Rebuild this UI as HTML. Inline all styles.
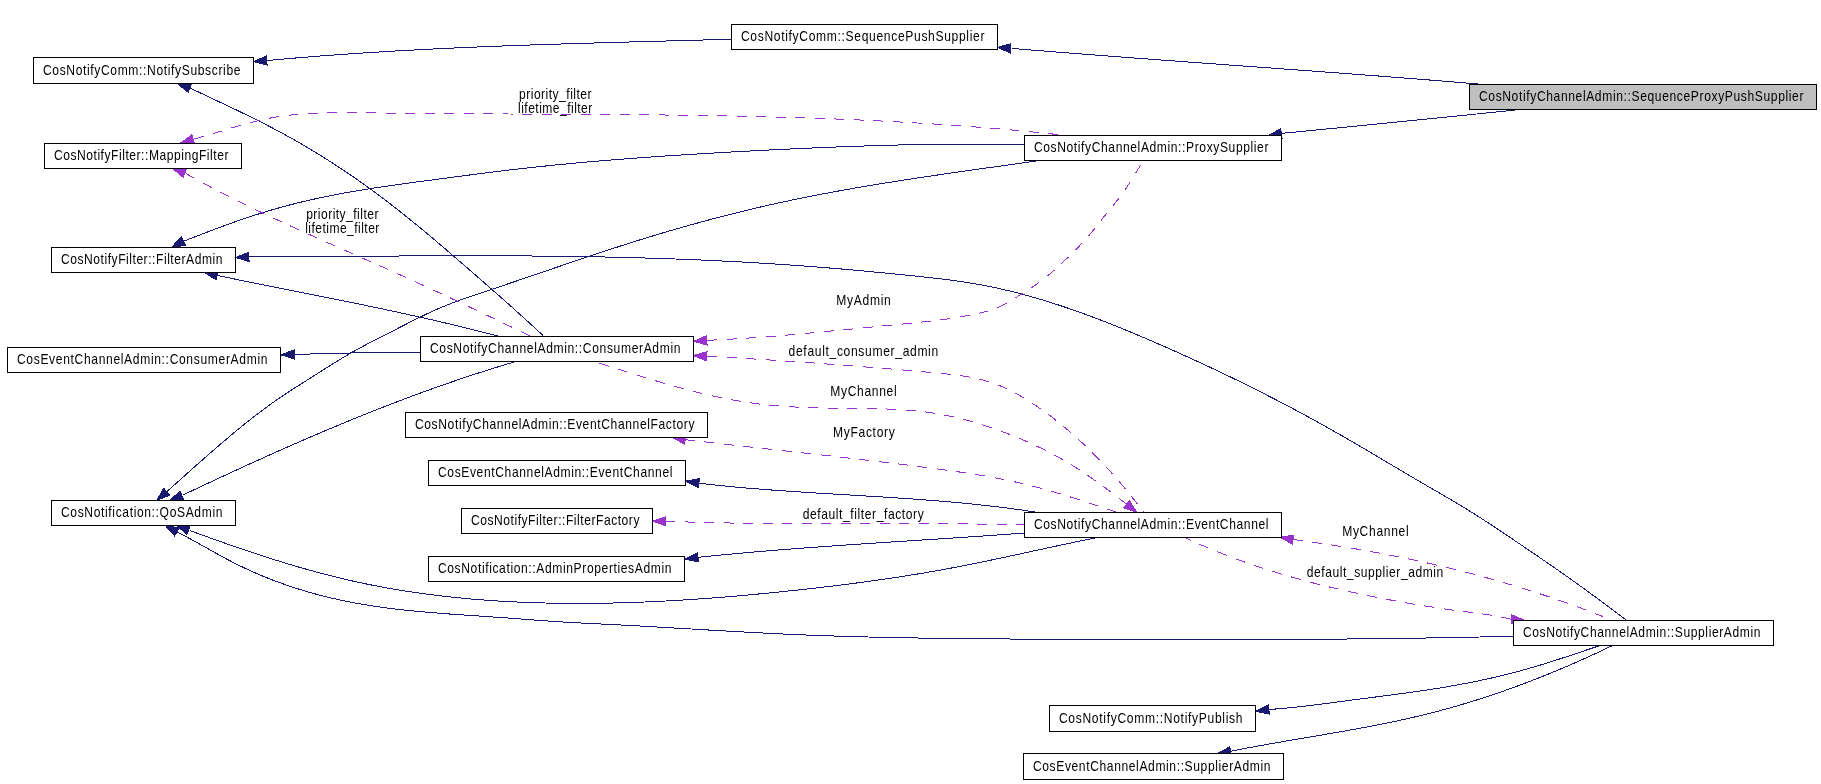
<!DOCTYPE html><html><head><meta charset="utf-8"><style>html,body{margin:0;padding:0;background:#fff;width:1821px;height:784px;overflow:hidden}svg{display:block;will-change:transform}text{font-family:'Liberation Sans', sans-serif;font-size:14.4px;fill:#000}.e{fill:none;stroke-width:1;shape-rendering:crispEdges}polygon{shape-rendering:crispEdges}.d{stroke-dasharray:10,9.5}</style></head><body>
<svg width="1821" height="784" viewBox="0 0 1821 784">
<rect width="1821" height="784" fill="#fff"/>
<path class="e" stroke="#191970" d="M1011.8,48.4 L1014.83,48.65 L1017.85,48.9 L1020.88,49.15 L1023.9,49.4 L1026.93,49.65 L1029.95,49.9 L1032.98,50.14 L1036,50.39 L1039.03,50.63 L1042.05,50.88 L1045.08,51.12 L1048.11,51.36 L1051.13,51.61 L1054.16,51.85 L1057.18,52.09 L1060.21,52.33 L1063.24,52.57 L1066.26,52.8 L1069.29,53.04 L1072.31,53.28 L1075.34,53.52 L1078.37,53.75 L1081.39,53.99 L1084.42,54.22 L1087.45,54.46 L1090.47,54.69 L1093.5,54.92 L1096.53,55.16 L1099.55,55.39 L1102.58,55.62 L1105.61,55.85 L1108.63,56.08 L1111.66,56.31 L1114.69,56.54 L1117.72,56.77 L1120.74,57 L1123.77,57.23 L1126.8,57.46 L1129.82,57.68 L1132.85,57.91 L1135.88,58.14 L1138.91,58.36 L1141.93,58.59 L1144.96,58.81 L1147.99,59.04 L1151.02,59.26 L1154.04,59.49 L1157.07,59.71 L1160.1,59.94 L1163.13,60.16 L1166.15,60.38 L1169.18,60.61 L1172.21,60.83 L1175.24,61.05 L1178.26,61.27 L1181.29,61.5 L1184.32,61.72 L1187.35,61.94 L1190.37,62.16 L1193.4,62.38 L1196.43,62.6 L1199.46,62.82 L1202.49,63.04 L1205.51,63.27 L1208.54,63.49 L1211.57,63.71 L1214.6,63.93 L1217.62,64.15 L1220.65,64.37 L1223.68,64.59 L1226.71,64.81 L1229.74,65.03 L1232.76,65.25 L1235.79,65.47 L1238.82,65.69 L1241.85,65.91 L1244.88,66.13 L1247.9,66.35 L1250.93,66.57 L1253.96,66.79 L1256.99,67.01 L1260.01,67.23 L1263.04,67.45 L1266.07,67.67 L1269.1,67.89 L1272.13,68.11 L1275.15,68.33 L1278.18,68.55 L1281.21,68.77 L1284.24,68.99 L1287.27,69.21 L1290.29,69.43 L1293.32,69.65 L1296.35,69.88 L1299.38,70.1 L1302.4,70.32 L1305.43,70.54 L1308.46,70.77 L1311.49,70.99 L1314.51,71.21 L1317.54,71.44 L1320.57,71.66 L1323.6,71.88 L1326.62,72.11 L1329.65,72.33 L1332.68,72.56 L1335.71,72.78 L1338.73,73.01 L1341.76,73.24 L1344.79,73.46 L1347.82,73.69 L1350.84,73.92 L1353.87,74.14 L1356.9,74.37 L1359.93,74.6 L1362.95,74.83 L1365.98,75.06 L1369.01,75.29 L1372.03,75.52 L1375.06,75.75 L1378.09,75.98 L1381.12,76.22 L1384.14,76.45 L1387.17,76.68 L1390.2,76.92 L1393.22,77.15 L1396.25,77.39 L1399.28,77.62 L1402.3,77.86 L1405.33,78.09 L1408.36,78.33 L1411.38,78.57 L1414.41,78.81 L1417.44,79.05 L1420.46,79.29 L1423.49,79.53 L1426.51,79.77 L1429.54,80.01 L1432.57,80.25 L1435.59,80.5 L1438.62,80.74 L1441.64,80.99 L1444.67,81.23 L1447.7,81.48 L1450.72,81.73 L1453.75,81.97 L1456.77,82.22 L1459.8,82.47 L1462.82,82.72 L1465.85,82.97 L1468.87,83.23 L1471.9,83.48 L1474.92,83.73 L1477.95,83.99 L1480.98,84.24 L1484,84.5"/>
<polygon points="997.2,47.4 1010.78,43.72 1010.15,52.9" fill="#191970" stroke="#191970" stroke-width="1"/>
<path class="e" stroke="#191970" d="M1281.4,133.4 L1284.46,133.1 L1287.52,132.8 L1290.58,132.51 L1293.64,132.21 L1296.7,131.91 L1299.76,131.61 L1302.82,131.31 L1305.88,131.01 L1308.94,130.72 L1312,130.42 L1315.06,130.12 L1318.12,129.82 L1321.18,129.52 L1324.24,129.22 L1327.3,128.92 L1330.36,128.62 L1333.42,128.32 L1336.48,128.02 L1339.53,127.72 L1342.59,127.42 L1345.65,127.12 L1348.71,126.82 L1351.77,126.52 L1354.83,126.22 L1357.89,125.91 L1360.95,125.61 L1364.01,125.31 L1367.07,125.01 L1370.13,124.71 L1373.19,124.4 L1376.25,124.1 L1379.31,123.8 L1382.37,123.49 L1385.43,123.19 L1388.49,122.89 L1391.54,122.58 L1394.6,122.28 L1397.66,121.97 L1400.72,121.67 L1403.78,121.36 L1406.84,121.06 L1409.9,120.75 L1412.96,120.45 L1416.02,120.14 L1419.08,119.83 L1422.14,119.53 L1425.19,119.22 L1428.25,118.91 L1431.31,118.6 L1434.37,118.3 L1437.43,117.99 L1440.49,117.68 L1443.55,117.37 L1446.61,117.06 L1449.66,116.75 L1452.72,116.44 L1455.78,116.13 L1458.84,115.82 L1461.9,115.5 L1464.96,115.19 L1468.01,114.88 L1471.07,114.57 L1474.13,114.25 L1477.19,113.94 L1480.25,113.62 L1483.31,113.31 L1486.36,113 L1489.42,112.68 L1492.48,112.36 L1495.54,112.05 L1498.6,111.73 L1501.65,111.41 L1504.71,111.1 L1507.77,110.78 L1510.83,110.46 L1513.88,110.14 L1516.94,109.82 L1520,109.5"/>
<polygon points="1268.2,135.5 1280.61,128.87 1282.06,137.95" fill="#191970" stroke="#191970" stroke-width="1"/>
<path class="e" stroke="#191970" d="M267.3,60.5 L270.32,60.22 L273.35,59.94 L276.37,59.67 L279.4,59.39 L282.43,59.13 L285.45,58.86 L288.48,58.6 L291.5,58.34 L294.53,58.08 L297.56,57.83 L300.58,57.58 L303.61,57.33 L306.64,57.08 L309.67,56.84 L312.69,56.6 L315.72,56.36 L318.75,56.13 L321.78,55.89 L324.81,55.66 L327.83,55.44 L330.86,55.21 L333.89,54.99 L336.92,54.77 L339.95,54.56 L342.98,54.34 L346.01,54.13 L349.04,53.92 L352.07,53.71 L355.1,53.51 L358.13,53.31 L361.16,53.11 L364.19,52.91 L367.22,52.72 L370.25,52.52 L373.29,52.33 L376.32,52.15 L379.35,51.96 L382.38,51.78 L385.41,51.59 L388.44,51.41 L391.48,51.24 L394.51,51.06 L397.54,50.89 L400.57,50.72 L403.61,50.55 L406.64,50.38 L409.67,50.22 L412.7,50.05 L415.74,49.89 L418.77,49.73 L421.81,49.58 L424.84,49.42 L427.87,49.27 L430.91,49.12 L433.94,48.97 L436.97,48.82 L440.01,48.67 L443.04,48.53 L446.08,48.38 L449.11,48.24 L452.15,48.1 L455.18,47.96 L458.22,47.83 L461.25,47.69 L464.29,47.56 L467.32,47.43 L470.36,47.3 L473.39,47.17 L476.43,47.04 L479.46,46.92 L482.5,46.79 L485.53,46.67 L488.57,46.55 L491.61,46.43 L494.64,46.31 L497.68,46.19 L500.71,46.07 L503.75,45.96 L506.79,45.85 L509.82,45.73 L512.86,45.62 L515.89,45.51 L518.93,45.4 L521.97,45.29 L525,45.19 L528.04,45.08 L531.08,44.98 L534.11,44.87 L537.15,44.77 L540.19,44.67 L543.22,44.57 L546.26,44.47 L549.3,44.37 L552.34,44.27 L555.37,44.17 L558.41,44.08 L561.45,43.98 L564.48,43.89 L567.52,43.79 L570.56,43.7 L573.59,43.61 L576.63,43.51 L579.67,43.42 L582.71,43.33 L585.74,43.24 L588.78,43.15 L591.82,43.06 L594.85,42.98 L597.89,42.89 L600.93,42.8 L603.97,42.72 L607,42.63 L610.04,42.54 L613.08,42.46 L616.11,42.37 L619.15,42.29 L622.19,42.2 L625.23,42.12 L628.26,42.04 L631.3,41.95 L634.34,41.87 L637.37,41.79 L640.41,41.7 L643.45,41.62 L646.49,41.54 L649.52,41.46 L652.56,41.37 L655.6,41.29 L658.63,41.21 L661.67,41.13 L664.71,41.05 L667.74,40.96 L670.78,40.88 L673.82,40.8 L676.85,40.72 L679.89,40.64 L682.93,40.55 L685.96,40.47 L689,40.39 L692.04,40.31 L695.07,40.22 L698.11,40.14 L701.14,40.06 L704.18,39.97 L707.22,39.89 L710.25,39.8 L713.29,39.72 L716.32,39.63 L719.36,39.55 L722.39,39.46 L725.43,39.37 L728.46,39.29 L731.5,39.2"/>
<polygon points="253.5,61.5 266.43,55.95 267.1,65.13" fill="#191970" stroke="#191970" stroke-width="1"/>
<path class="e" stroke="#191970" d="M183.6,241.2 L186.41,240.12 L189.23,239.04 L192.04,237.95 L194.86,236.86 L197.67,235.78 L200.49,234.69 L203.31,233.6 L206.13,232.52 L208.95,231.44 L211.77,230.37 L214.6,229.3 L217.42,228.23 L220.25,227.18 L223.09,226.13 L225.92,225.09 L228.76,224.06 L231.6,223.04 L234.45,222.03 L237.3,221.03 L240.15,220.05 L243,219.07 L245.86,218.11 L248.72,217.15 L251.59,216.21 L254.46,215.28 L257.33,214.36 L260.21,213.46 L263.09,212.57 L265.97,211.69 L268.86,210.82 L271.75,209.96 L274.64,209.12 L277.54,208.29 L280.44,207.48 L283.34,206.67 L286.25,205.89 L289.16,205.11 L292.08,204.35 L294.99,203.61 L297.92,202.87 L300.84,202.16 L303.77,201.45 L306.7,200.76 L309.64,200.09 L312.58,199.42 L315.52,198.77 L318.46,198.13 L321.41,197.51 L324.36,196.89 L327.31,196.29 L330.27,195.69 L333.23,195.11 L336.19,194.54 L339.15,193.98 L342.12,193.43 L345.09,192.89 L348.06,192.35 L351.03,191.83 L354,191.32 L356.98,190.81 L359.96,190.31 L362.94,189.82 L365.92,189.34 L368.9,188.86 L371.88,188.39 L374.87,187.93 L377.86,187.48 L380.84,187.03 L383.83,186.58 L386.82,186.14 L389.81,185.71 L392.81,185.28 L395.8,184.85 L398.79,184.43 L401.79,184.01 L404.78,183.6 L407.78,183.19 L410.77,182.78 L413.77,182.38 L416.76,181.97 L419.76,181.57 L422.75,181.17 L425.75,180.78 L428.75,180.38 L431.74,179.98 L434.74,179.59 L437.73,179.19 L440.72,178.8 L443.72,178.4 L446.71,178.01 L449.7,177.61 L452.7,177.21 L455.69,176.82 L458.68,176.42 L461.67,176.03 L464.66,175.64 L467.65,175.24 L470.64,174.85 L473.63,174.47 L476.62,174.08 L479.61,173.69 L482.61,173.31 L485.6,172.93 L488.59,172.55 L491.58,172.18 L494.57,171.8 L497.56,171.43 L500.55,171.07 L503.55,170.7 L506.54,170.34 L509.53,169.99 L512.53,169.64 L515.52,169.29 L518.51,168.95 L521.51,168.61 L524.51,168.27 L527.5,167.94 L530.5,167.61 L533.5,167.28 L536.49,166.96 L539.49,166.64 L542.49,166.32 L545.49,166.01 L548.49,165.7 L551.49,165.4 L554.49,165.1 L557.49,164.8 L560.49,164.51 L563.49,164.21 L566.49,163.92 L569.5,163.64 L572.5,163.36 L575.5,163.08 L578.5,162.8 L581.51,162.53 L584.51,162.26 L587.52,161.99 L590.52,161.73 L593.53,161.47 L596.53,161.21 L599.54,160.95 L602.54,160.7 L605.55,160.45 L608.56,160.2 L611.56,159.96 L614.57,159.72 L617.58,159.48 L620.59,159.24 L623.59,159.01 L626.6,158.78 L629.61,158.55 L632.62,158.32 L635.63,158.09 L638.64,157.87 L641.65,157.65 L644.66,157.44 L647.67,157.22 L650.68,157.01 L653.69,156.8 L656.7,156.59 L659.71,156.38 L662.72,156.18 L665.73,155.98 L668.74,155.78 L671.75,155.58 L674.76,155.38 L677.78,155.19 L680.79,154.99 L683.8,154.8 L686.81,154.61 L689.82,154.43 L692.84,154.24 L695.85,154.06 L698.86,153.88 L701.88,153.7 L704.89,153.52 L707.9,153.34 L710.91,153.16 L713.93,152.99 L716.94,152.82 L719.95,152.65 L722.97,152.48 L725.98,152.31 L728.99,152.14 L732.01,151.97 L735.02,151.81 L738.03,151.65 L741.05,151.48 L744.06,151.32 L747.08,151.16 L750.09,151 L753.1,150.85 L756.12,150.69 L759.13,150.53 L762.14,150.38 L765.16,150.22 L768.17,150.07 L771.18,149.92 L774.2,149.77 L777.21,149.62 L780.23,149.47 L783.24,149.33 L786.25,149.18 L789.27,149.04 L792.28,148.89 L795.29,148.75 L798.31,148.61 L801.32,148.48 L804.33,148.34 L807.35,148.2 L810.36,148.07 L813.38,147.94 L816.39,147.81 L819.4,147.68 L822.42,147.55 L825.43,147.43 L828.45,147.3 L831.46,147.18 L834.47,147.06 L837.49,146.94 L840.5,146.83 L843.52,146.71 L846.53,146.6 L849.54,146.49 L852.56,146.38 L855.57,146.28 L858.59,146.17 L861.6,146.07 L864.62,145.97 L867.63,145.87 L870.65,145.78 L873.66,145.68 L876.67,145.59 L879.69,145.5 L882.7,145.42 L885.72,145.33 L888.73,145.25 L891.75,145.17 L894.76,145.09 L897.78,145.02 L900.79,144.95 L903.81,144.88 L906.83,144.81 L909.84,144.74 L912.86,144.68 L915.87,144.62 L918.89,144.57 L921.9,144.51 L924.92,144.46 L927.94,144.41 L930.95,144.37 L933.97,144.32 L936.98,144.28 L940,144.25 L943.02,144.21 L946.03,144.18 L949.05,144.15 L952.07,144.13 L955.08,144.1 L958.1,144.09 L961.12,144.07 L964.13,144.06 L967.15,144.05 L970.17,144.04 L973.19,144.04 L976.2,144.04 L979.22,144.04 L982.24,144.05 L985.26,144.06 L988.27,144.07 L991.29,144.09 L994.31,144.11 L997.33,144.13 L1000.35,144.16 L1003.37,144.19 L1006.38,144.22 L1009.4,144.26 L1012.42,144.3 L1015.44,144.34 L1018.46,144.39 L1021.48,144.45 L1024.5,144.5"/>
<polygon points="171.5,247.3 181.31,237.21 185.45,245.42" fill="#191970" stroke="#191970" stroke-width="1"/>
<path class="e" stroke="#191970" d="M166.6,491.8 L168.86,489.8 L171.12,487.8 L173.37,485.79 L175.63,483.79 L177.88,481.78 L180.13,479.77 L182.38,477.76 L184.64,475.75 L186.89,473.73 L189.14,471.72 L191.4,469.71 L193.65,467.7 L195.91,465.69 L198.17,463.69 L200.43,461.68 L202.69,459.68 L204.95,457.68 L207.22,455.69 L209.49,453.69 L211.76,451.71 L214.04,449.72 L216.32,447.74 L218.61,445.77 L220.9,443.8 L223.19,441.84 L225.49,439.88 L227.79,437.93 L230.1,435.99 L232.41,434.05 L234.74,432.12 L237.06,430.2 L239.4,428.29 L241.74,426.39 L244.08,424.49 L246.44,422.61 L248.8,420.74 L251.17,418.87 L253.55,417.02 L255.93,415.18 L258.33,413.35 L260.73,411.53 L263.14,409.72 L265.57,407.93 L268,406.15 L270.44,404.38 L272.89,402.62 L275.35,400.88 L277.83,399.16 L280.31,397.45 L282.81,395.75 L285.32,394.07 L287.84,392.41 L290.37,390.76 L292.91,389.12 L295.46,387.5 L298.01,385.88 L300.57,384.27 L303.13,382.66 L305.69,381.05 L308.25,379.43 L310.8,377.81 L313.35,376.19 L315.9,374.57 L318.45,372.94 L320.99,371.32 L323.54,369.7 L326.09,368.08 L328.64,366.47 L331.2,364.86 L333.76,363.27 L336.32,361.68 L338.89,360.1 L341.47,358.54 L344.05,356.99 L346.65,355.46 L349.25,353.94 L351.87,352.44 L354.49,350.96 L357.13,349.5 L359.77,348.05 L362.42,346.62 L365.08,345.2 L367.75,343.79 L370.42,342.4 L373.1,341.01 L375.78,339.63 L378.47,338.25 L381.16,336.88 L383.85,335.51 L386.54,334.14 L389.24,332.78 L391.93,331.41 L394.62,330.04 L397.32,328.67 L400.01,327.29 L402.7,325.91 L405.39,324.54 L408.08,323.16 L410.77,321.79 L413.47,320.43 L416.17,319.08 L418.87,317.74 L421.58,316.41 L424.3,315.09 L427.02,313.79 L429.75,312.51 L432.49,311.25 L435.24,310.02 L438,308.8 L440.77,307.62 L443.55,306.46 L446.34,305.32 L449.14,304.21 L451.95,303.12 L454.77,302.06 L457.6,301.01 L460.43,299.98 L463.27,298.96 L466.12,297.96 L468.97,296.97 L471.83,295.99 L474.69,295.02 L477.55,294.05 L480.42,293.09 L483.28,292.14 L486.15,291.18 L489.02,290.23 L491.88,289.27 L494.75,288.32 L497.61,287.36 L500.48,286.4 L503.34,285.43 L506.2,284.47 L509.06,283.5 L511.92,282.53 L514.78,281.56 L517.64,280.59 L520.5,279.62 L523.36,278.65 L526.22,277.68 L529.07,276.7 L531.93,275.73 L534.79,274.76 L537.64,273.78 L540.5,272.81 L543.36,271.83 L546.21,270.86 L549.07,269.88 L551.92,268.91 L554.78,267.94 L557.64,266.96 L560.49,265.99 L563.35,265.02 L566.21,264.05 L569.06,263.08 L571.92,262.11 L574.78,261.15 L577.64,260.18 L580.5,259.22 L583.36,258.26 L586.22,257.3 L589.08,256.34 L591.94,255.39 L594.8,254.43 L597.67,253.48 L600.53,252.54 L603.4,251.59 L606.26,250.65 L609.13,249.71 L612,248.77 L614.87,247.84 L617.74,246.91 L620.61,245.99 L623.48,245.06 L626.36,244.14 L629.23,243.23 L632.11,242.32 L634.99,241.41 L637.87,240.51 L640.75,239.61 L643.63,238.72 L646.52,237.83 L649.41,236.95 L652.29,236.07 L655.18,235.19 L658.08,234.32 L660.97,233.46 L663.86,232.6 L666.76,231.74 L669.66,230.89 L672.56,230.04 L675.46,229.2 L678.36,228.37 L681.26,227.54 L684.17,226.71 L687.08,225.89 L689.98,225.07 L692.89,224.26 L695.81,223.46 L698.72,222.65 L701.63,221.86 L704.55,221.07 L707.46,220.28 L710.38,219.5 L713.3,218.73 L716.22,217.96 L719.15,217.2 L722.07,216.44 L725,215.69 L727.92,214.94 L730.85,214.2 L733.78,213.46 L736.71,212.73 L739.64,212 L742.57,211.28 L745.51,210.57 L748.45,209.86 L751.38,209.16 L754.32,208.46 L757.26,207.77 L760.2,207.09 L763.14,206.41 L766.09,205.74 L769.03,205.07 L771.98,204.41 L774.92,203.75 L777.87,203.11 L780.82,202.46 L783.77,201.83 L786.72,201.19 L789.68,200.57 L792.63,199.95 L795.58,199.33 L798.54,198.73 L801.5,198.12 L804.45,197.52 L807.41,196.93 L810.37,196.34 L813.33,195.76 L816.3,195.18 L819.26,194.61 L822.22,194.04 L825.19,193.48 L828.15,192.92 L831.12,192.37 L834.09,191.82 L837.06,191.28 L840.02,190.74 L842.99,190.2 L845.97,189.67 L848.94,189.14 L851.91,188.62 L854.88,188.1 L857.86,187.59 L860.83,187.08 L863.81,186.57 L866.78,186.07 L869.76,185.57 L872.74,185.07 L875.71,184.58 L878.69,184.09 L881.67,183.6 L884.65,183.12 L887.63,182.64 L890.61,182.16 L893.59,181.69 L896.57,181.21 L899.56,180.75 L902.54,180.28 L905.52,179.82 L908.51,179.36 L911.49,178.9 L914.48,178.45 L917.46,177.99 L920.45,177.54 L923.43,177.09 L926.42,176.65 L929.41,176.2 L932.39,175.76 L935.38,175.32 L938.37,174.88 L941.36,174.45 L944.34,174.01 L947.33,173.58 L950.32,173.15 L953.31,172.72 L956.3,172.29 L959.29,171.86 L962.28,171.43 L965.27,171.01 L968.25,170.58 L971.24,170.16 L974.23,169.74 L977.22,169.31 L980.21,168.89 L983.2,168.47 L986.19,168.05 L989.18,167.63 L992.17,167.21 L995.16,166.8 L998.15,166.38 L1001.14,165.96 L1004.13,165.54 L1007.12,165.12 L1010.11,164.7 L1013.1,164.29 L1016.09,163.87 L1019.08,163.45 L1022.07,163.03 L1025.06,162.61 L1028.05,162.19 L1031.04,161.77 L1034.02,161.35 L1037.01,160.92 L1040,160.5"/>
<polygon points="156.7,500.4 163.72,488.21 169.76,495.15" fill="#191970" stroke="#191970" stroke-width="1"/>
<path class="e" stroke="#191970" d="M190.5,88.2 L193.23,89.51 L195.96,90.81 L198.69,92.11 L201.43,93.41 L204.17,94.7 L206.91,96 L209.65,97.29 L212.39,98.59 L215.13,99.88 L217.87,101.18 L220.61,102.48 L223.35,103.78 L226.09,105.08 L228.83,106.38 L231.56,107.69 L234.3,109 L237.04,110.31 L239.77,111.63 L242.5,112.96 L245.23,114.28 L247.95,115.62 L250.67,116.96 L253.39,118.3 L256.11,119.66 L258.82,121.02 L261.52,122.38 L264.23,123.76 L266.93,125.14 L269.62,126.53 L272.31,127.94 L274.99,129.35 L277.66,130.77 L280.34,132.2 L283,133.64 L285.66,135.1 L288.31,136.56 L290.96,138.03 L293.6,139.52 L296.23,141.01 L298.86,142.52 L301.48,144.03 L304.1,145.56 L306.71,147.09 L309.31,148.64 L311.91,150.19 L314.5,151.76 L317.09,153.33 L319.66,154.92 L322.24,156.51 L324.8,158.12 L327.36,159.73 L329.92,161.36 L332.47,162.99 L335.01,164.63 L337.54,166.29 L340.07,167.95 L342.59,169.62 L345.11,171.31 L347.62,173 L350.12,174.7 L352.62,176.41 L355.11,178.13 L357.59,179.86 L360.07,181.6 L362.54,183.35 L365.01,185.11 L367.47,186.88 L369.92,188.65 L372.36,190.44 L374.8,192.24 L377.23,194.04 L379.66,195.85 L382.08,197.67 L384.5,199.5 L386.91,201.34 L389.31,203.18 L391.71,205.04 L394.1,206.9 L396.49,208.76 L398.87,210.64 L401.25,212.52 L403.62,214.4 L405.99,216.3 L408.35,218.2 L410.71,220.1 L413.06,222.02 L415.41,223.93 L417.76,225.86 L420.1,227.78 L422.44,229.72 L424.78,231.66 L427.11,233.6 L429.44,235.55 L431.76,237.5 L434.08,239.45 L436.4,241.41 L438.72,243.37 L441.03,245.34 L443.34,247.31 L445.65,249.28 L447.95,251.26 L450.25,253.23 L452.55,255.21 L454.85,257.2 L457.15,259.18 L459.44,261.17 L461.74,263.15 L464.03,265.14 L466.32,267.13 L468.61,269.12 L470.9,271.12 L473.18,273.11 L475.47,275.1 L477.76,277.1 L480.04,279.09 L482.32,281.08 L484.61,283.08 L486.89,285.08 L489.17,287.07 L491.45,289.07 L493.72,291.07 L496,293.07 L498.27,295.07 L500.54,297.08 L502.81,299.08 L505.08,301.09 L507.35,303.1 L509.61,305.12 L511.87,307.13 L514.13,309.15 L516.38,311.17 L518.64,313.19 L520.89,315.22 L523.13,317.25 L525.38,319.29 L527.62,321.32 L529.86,323.36 L532.09,325.41 L534.32,327.46 L536.54,329.51 L538.77,331.57 L540.99,333.63 L543.2,335.7"/>
<polygon points="177.3,83.5 191.37,83.63 188.29,92.29" fill="#191970" stroke="#191970" stroke-width="1"/>
<path class="e" stroke="#191970" d="M217,275.4 L219.99,276.02 L222.98,276.64 L225.97,277.25 L228.96,277.87 L231.95,278.48 L234.94,279.09 L237.93,279.7 L240.92,280.31 L243.91,280.91 L246.9,281.52 L249.9,282.12 L252.89,282.73 L255.88,283.33 L258.88,283.93 L261.87,284.53 L264.86,285.13 L267.86,285.73 L270.85,286.33 L273.85,286.93 L276.84,287.53 L279.84,288.12 L282.83,288.72 L285.82,289.32 L288.82,289.91 L291.81,290.51 L294.81,291.11 L297.8,291.71 L300.8,292.3 L303.79,292.9 L306.79,293.5 L309.78,294.1 L312.78,294.69 L315.77,295.29 L318.77,295.89 L321.76,296.49 L324.76,297.1 L327.75,297.7 L330.74,298.3 L333.74,298.91 L336.73,299.51 L339.72,300.12 L342.72,300.73 L345.71,301.34 L348.7,301.95 L351.69,302.56 L354.69,303.17 L357.68,303.79 L360.67,304.41 L363.66,305.02 L366.65,305.64 L369.64,306.27 L372.63,306.89 L375.61,307.52 L378.6,308.15 L381.59,308.78 L384.58,309.41 L387.56,310.05 L390.55,310.69 L393.54,311.33 L396.52,311.97 L399.5,312.62 L402.49,313.27 L405.47,313.92 L408.45,314.58 L411.43,315.24 L414.41,315.9 L417.39,316.56 L420.37,317.23 L423.35,317.9 L426.33,318.58 L429.31,319.25 L432.28,319.94 L435.26,320.62 L438.23,321.31 L441.2,322 L444.18,322.7 L447.15,323.4 L450.12,324.11 L453.09,324.82 L456.06,325.53 L459.02,326.25 L461.99,326.97 L464.96,327.7 L467.92,328.43 L470.88,329.16 L473.85,329.9 L476.81,330.65 L479.77,331.4 L482.72,332.15 L485.68,332.91 L488.64,333.67 L491.59,334.44 L494.55,335.22 L497.5,336"/>
<polygon points="204.3,272.2 218.32,270.99 216.07,279.91" fill="#191970" stroke="#191970" stroke-width="1"/>
<path class="e" stroke="#191970" d="M293.5,354.5 C302.92,354.25 328.92,353.37 350,353 C371.08,352.63 408.33,352.42 420,352.3"/>
<polygon points="280.9,354.8 294.09,349.88 294.31,359.08" fill="#191970" stroke="#191970" stroke-width="1"/>
<path class="e" stroke="#191970" d="M182.6,495.2 L185.35,493.9 L188.09,492.6 L190.84,491.3 L193.59,490.01 L196.34,488.71 L199.09,487.42 L201.84,486.12 L204.59,484.83 L207.34,483.54 L210.1,482.25 L212.85,480.97 L215.6,479.68 L218.36,478.4 L221.12,477.12 L223.87,475.84 L226.63,474.56 L229.39,473.28 L232.15,472.01 L234.91,470.73 L237.67,469.46 L240.44,468.2 L243.2,466.93 L245.96,465.66 L248.73,464.4 L251.5,463.14 L254.27,461.88 L257.03,460.63 L259.8,459.38 L262.57,458.13 L265.35,456.88 L268.12,455.63 L270.89,454.39 L273.67,453.15 L276.45,451.91 L279.22,450.68 L282,449.44 L284.78,448.21 L287.56,446.99 L290.35,445.76 L293.13,444.54 L295.91,443.32 L298.7,442.11 L301.49,440.89 L304.28,439.68 L307.07,438.48 L309.86,437.27 L312.65,436.07 L315.44,434.88 L318.24,433.68 L321.04,432.49 L323.83,431.3 L326.63,430.12 L329.43,428.94 L332.24,427.76 L335.04,426.59 L337.84,425.42 L340.65,424.26 L343.46,423.09 L346.27,421.93 L349.08,420.78 L351.89,419.63 L354.7,418.48 L357.52,417.34 L360.34,416.2 L363.15,415.06 L365.97,413.93 L368.8,412.8 L371.62,411.68 L374.44,410.56 L377.27,409.45 L380.1,408.33 L382.93,407.23 L385.76,406.13 L388.59,405.03 L391.43,403.93 L394.26,402.85 L397.1,401.76 L399.94,400.68 L402.78,399.61 L405.62,398.53 L408.47,397.47 L411.32,396.41 L414.16,395.35 L417.02,394.3 L419.87,393.25 L422.72,392.21 L425.58,391.17 L428.44,390.14 L431.29,389.11 L434.16,388.09 L437.02,387.07 L439.89,386.06 L442.75,385.05 L445.62,384.05 L448.49,383.06 L451.37,382.07 L454.24,381.08 L457.12,380.1 L460,379.12 L462.88,378.16 L465.76,377.19 L468.65,376.23 L471.53,375.28 L474.42,374.33 L477.31,373.39 L480.21,372.46 L483.1,371.53 L486,370.61 L488.9,369.69 L491.8,368.78 L494.71,367.87 L497.61,366.97 L500.52,366.08 L503.43,365.19 L506.35,364.31 L509.26,363.43 L512.18,362.56 L515.1,361.7"/>
<polygon points="169.5,500.4 180.16,491.22 183.56,499.77" fill="#191970" stroke="#191970" stroke-width="1"/>
<path class="e" stroke="#191970" d="M699.4,483.3 L702.42,483.65 L705.43,483.99 L708.45,484.32 L711.47,484.65 L714.49,484.97 L717.5,485.29 L720.52,485.6 L723.54,485.9 L726.56,486.2 L729.59,486.49 L732.61,486.77 L735.63,487.05 L738.65,487.33 L741.67,487.6 L744.7,487.86 L747.72,488.12 L750.75,488.37 L753.77,488.62 L756.8,488.87 L759.82,489.11 L762.85,489.35 L765.87,489.58 L768.9,489.81 L771.93,490.04 L774.95,490.26 L777.98,490.48 L781.01,490.69 L784.04,490.9 L787.07,491.11 L790.09,491.32 L793.12,491.52 L796.15,491.72 L799.18,491.92 L802.21,492.12 L805.24,492.31 L808.27,492.5 L811.3,492.69 L814.33,492.88 L817.36,493.07 L820.39,493.25 L823.42,493.44 L826.45,493.62 L829.48,493.8 L832.51,493.99 L835.55,494.17 L838.58,494.35 L841.61,494.53 L844.64,494.71 L847.67,494.89 L850.7,495.07 L853.73,495.25 L856.76,495.43 L859.79,495.61 L862.82,495.79 L865.85,495.97 L868.88,496.15 L871.91,496.34 L874.94,496.52 L877.97,496.71 L881,496.9 L884.03,497.09 L887.06,497.28 L890.09,497.48 L893.12,497.67 L896.15,497.87 L899.18,498.07 L902.21,498.28 L905.23,498.48 L908.26,498.69 L911.29,498.9 L914.32,499.12 L917.34,499.34 L920.37,499.56 L923.4,499.78 L926.42,500.01 L929.45,500.25 L932.47,500.48 L935.5,500.73 L938.52,500.97 L941.55,501.22 L944.57,501.48 L947.59,501.74 L950.62,502 L953.64,502.27 L956.66,502.55 L959.68,502.83 L962.7,503.11 L965.72,503.4 L968.74,503.7 L971.76,504 L974.78,504.31 L977.79,504.63 L980.81,504.95 L983.83,505.28 L986.84,505.61 L989.86,505.95 L992.87,506.3 L995.89,506.66 L998.9,507.02 L1001.91,507.39 L1004.92,507.77 L1007.94,508.16 L1010.95,508.55 L1013.96,508.95 L1016.96,509.36 L1019.97,509.78 L1022.98,510.21 L1025.99,510.64 L1028.99,511.09 L1032,511.54 L1035,512"/>
<polygon points="685.6,481.1 699.46,478.65 698.01,487.74" fill="#191970" stroke="#191970" stroke-width="1"/>
<path class="e" stroke="#191970" d="M697.4,557.4 L700.42,557.09 L703.44,556.77 L706.47,556.47 L709.49,556.16 L712.51,555.86 L715.53,555.56 L718.56,555.26 L721.58,554.97 L724.6,554.68 L727.63,554.4 L730.65,554.11 L733.68,553.83 L736.7,553.55 L739.73,553.28 L742.75,553.01 L745.78,552.74 L748.8,552.47 L751.83,552.2 L754.85,551.94 L757.88,551.68 L760.91,551.43 L763.93,551.17 L766.96,550.92 L769.99,550.67 L773.01,550.42 L776.04,550.18 L779.07,549.93 L782.09,549.69 L785.12,549.45 L788.15,549.22 L791.18,548.98 L794.21,548.75 L797.23,548.52 L800.26,548.29 L803.29,548.06 L806.32,547.83 L809.35,547.61 L812.38,547.39 L815.41,547.16 L818.44,546.94 L821.46,546.73 L824.49,546.51 L827.52,546.29 L830.55,546.08 L833.58,545.87 L836.61,545.66 L839.64,545.45 L842.67,545.24 L845.7,545.03 L848.73,544.82 L851.76,544.62 L854.79,544.41 L857.82,544.21 L860.86,544.01 L863.89,543.8 L866.92,543.6 L869.95,543.4 L872.98,543.2 L876.01,543 L879.04,542.8 L882.07,542.6 L885.1,542.41 L888.13,542.21 L891.16,542.01 L894.19,541.82 L897.23,541.62 L900.26,541.42 L903.29,541.23 L906.32,541.03 L909.35,540.84 L912.38,540.64 L915.41,540.44 L918.44,540.25 L921.47,540.05 L924.5,539.86 L927.54,539.66 L930.57,539.46 L933.6,539.27 L936.63,539.07 L939.66,538.87 L942.69,538.68 L945.72,538.48 L948.75,538.28 L951.78,538.08 L954.81,537.88 L957.85,537.68 L960.88,537.48 L963.91,537.28 L966.94,537.07 L969.97,536.87 L973,536.66 L976.03,536.46 L979.06,536.25 L982.09,536.04 L985.12,535.84 L988.15,535.63 L991.18,535.41 L994.21,535.2 L997.24,534.99 L1000.27,534.77 L1003.3,534.56 L1006.33,534.34 L1009.36,534.12 L1012.38,533.9 L1015.41,533.68 L1018.44,533.45 L1021.47,533.23 L1024.5,533"/>
<polygon points="684.8,559.3 697.27,552.77 698.64,561.87" fill="#191970" stroke="#191970" stroke-width="1"/>
<path class="e" stroke="#191970" d="M189.7,530.5 L192.52,531.53 L195.35,532.56 L198.17,533.59 L201,534.61 L203.83,535.64 L206.66,536.66 L209.49,537.68 L212.33,538.69 L215.16,539.7 L218,540.71 L220.84,541.72 L223.69,542.72 L226.53,543.72 L229.38,544.71 L232.23,545.7 L235.08,546.69 L237.93,547.67 L240.79,548.65 L243.64,549.62 L246.5,550.59 L249.36,551.55 L252.23,552.5 L255.09,553.46 L257.96,554.4 L260.83,555.34 L263.7,556.27 L266.57,557.2 L269.45,558.12 L272.32,559.04 L275.2,559.95 L278.09,560.85 L280.97,561.74 L283.85,562.63 L286.74,563.51 L289.63,564.38 L292.53,565.24 L295.42,566.1 L298.32,566.95 L301.22,567.78 L304.12,568.62 L307.02,569.44 L309.93,570.25 L312.83,571.06 L315.74,571.85 L318.65,572.64 L321.57,573.41 L324.49,574.18 L327.4,574.94 L330.33,575.69 L333.25,576.42 L336.17,577.15 L339.1,577.86 L342.03,578.57 L344.97,579.26 L347.9,579.95 L350.84,580.62 L353.78,581.28 L356.72,581.93 L359.66,582.56 L362.61,583.19 L365.56,583.81 L368.51,584.41 L371.46,585 L374.42,585.59 L377.37,586.16 L380.33,586.72 L383.29,587.27 L386.25,587.81 L389.22,588.34 L392.19,588.85 L395.15,589.36 L398.12,589.86 L401.1,590.35 L404.07,590.82 L407.05,591.29 L410.02,591.75 L413,592.19 L415.98,592.63 L418.96,593.06 L421.95,593.47 L424.93,593.88 L427.92,594.28 L430.9,594.66 L433.89,595.04 L436.88,595.41 L439.88,595.77 L442.87,596.12 L445.86,596.46 L448.86,596.79 L451.85,597.12 L454.85,597.43 L457.85,597.74 L460.85,598.03 L463.85,598.32 L466.85,598.6 L469.85,598.87 L472.86,599.13 L475.86,599.38 L478.87,599.62 L481.87,599.86 L484.88,600.09 L487.89,600.31 L490.9,600.52 L493.9,600.72 L496.91,600.92 L499.92,601.1 L502.94,601.28 L505.95,601.45 L508.96,601.62 L511.97,601.77 L514.98,601.92 L518,602.06 L521.01,602.19 L524.02,602.32 L527.04,602.44 L530.05,602.55 L533.06,602.65 L536.08,602.75 L539.09,602.84 L542.11,602.92 L545.12,603 L548.14,603.07 L551.15,603.13 L554.17,603.19 L557.18,603.24 L560.2,603.28 L563.21,603.31 L566.23,603.34 L569.24,603.37 L572.25,603.38 L575.27,603.39 L578.28,603.4 L581.3,603.4 L584.31,603.39 L587.32,603.37 L590.34,603.35 L593.35,603.33 L596.36,603.29 L599.38,603.26 L602.39,603.21 L605.4,603.16 L608.42,603.11 L611.43,603.04 L614.44,602.98 L617.46,602.9 L620.47,602.82 L623.48,602.74 L626.49,602.65 L629.51,602.56 L632.52,602.45 L635.53,602.35 L638.54,602.24 L641.55,602.12 L644.56,602 L647.57,601.87 L650.59,601.74 L653.6,601.6 L656.61,601.46 L659.62,601.31 L662.63,601.16 L665.64,601 L668.65,600.84 L671.66,600.68 L674.67,600.5 L677.68,600.33 L680.68,600.15 L683.69,599.96 L686.7,599.77 L689.71,599.58 L692.72,599.38 L695.73,599.18 L698.73,598.97 L701.74,598.76 L704.75,598.54 L707.76,598.32 L710.76,598.1 L713.77,597.87 L716.77,597.64 L719.78,597.4 L722.79,597.16 L725.79,596.91 L728.8,596.67 L731.8,596.41 L734.81,596.16 L737.81,595.9 L740.81,595.64 L743.82,595.37 L746.82,595.1 L749.83,594.82 L752.83,594.55 L755.83,594.27 L758.83,593.98 L761.83,593.69 L764.84,593.4 L767.84,593.11 L770.84,592.81 L773.84,592.51 L776.84,592.21 L779.84,591.9 L782.84,591.59 L785.84,591.28 L788.84,590.96 L791.84,590.65 L794.83,590.33 L797.83,590 L800.83,589.68 L803.83,589.35 L806.82,589.01 L809.82,588.68 L812.82,588.34 L815.81,588 L818.81,587.65 L821.8,587.31 L824.8,586.95 L827.79,586.6 L830.78,586.24 L833.78,585.88 L836.77,585.51 L839.76,585.15 L842.75,584.77 L845.74,584.4 L848.73,584.02 L851.72,583.63 L854.71,583.24 L857.7,582.85 L860.68,582.45 L863.67,582.05 L866.66,581.65 L869.64,581.24 L872.63,580.83 L875.61,580.41 L878.6,579.98 L881.58,579.56 L884.56,579.13 L887.54,578.69 L890.52,578.25 L893.5,577.8 L896.48,577.35 L899.46,576.89 L902.44,576.43 L905.41,575.97 L908.39,575.49 L911.36,575.02 L914.34,574.53 L917.31,574.05 L920.28,573.55 L923.25,573.06 L926.22,572.55 L929.19,572.04 L932.16,571.53 L935.13,571.01 L938.09,570.48 L941.06,569.95 L944.02,569.41 L946.99,568.86 L949.95,568.31 L952.91,567.75 L955.87,567.19 L958.83,566.62 L961.79,566.05 L964.74,565.47 L967.7,564.88 L970.66,564.29 L973.61,563.7 L976.57,563.1 L979.52,562.5 L982.47,561.89 L985.43,561.28 L988.38,560.67 L991.33,560.05 L994.28,559.43 L997.23,558.8 L1000.18,558.18 L1003.13,557.55 L1006.08,556.92 L1009.02,556.29 L1011.97,555.65 L1014.92,555.02 L1017.87,554.38 L1020.82,553.74 L1023.76,553.1 L1026.71,552.47 L1029.66,551.83 L1032.6,551.19 L1035.55,550.55 L1038.5,549.91 L1041.44,549.27 L1044.39,548.63 L1047.34,547.99 L1050.29,547.35 L1053.23,546.72 L1056.18,546.08 L1059.13,545.45 L1062.08,544.82 L1065.03,544.19 L1067.98,543.57 L1070.93,542.95 L1073.88,542.33 L1076.83,541.71 L1079.78,541.1 L1082.73,540.49 L1085.68,539.88 L1088.64,539.28 L1091.59,538.68 L1094.54,538.09 L1097.5,537.5"/>
<polygon points="176.2,525.2 190.26,525.78 186.9,534.34" fill="#191970" stroke="#191970" stroke-width="1"/>
<path class="e" stroke="#191970" d="M176.5,531.7 L179.17,533.05 L181.83,534.42 L184.48,535.81 L187.13,537.22 L189.78,538.65 L192.42,540.09 L195.06,541.54 L197.7,543 L200.33,544.47 L202.97,545.94 L205.6,547.42 L208.24,548.9 L210.88,550.37 L213.52,551.85 L216.16,553.31 L218.81,554.78 L221.46,556.23 L224.12,557.67 L226.78,559.09 L229.45,560.51 L232.13,561.9 L234.82,563.27 L237.52,564.63 L240.22,565.96 L242.94,567.27 L245.66,568.56 L248.4,569.82 L251.14,571.07 L253.89,572.3 L256.65,573.5 L259.41,574.69 L262.19,575.85 L264.97,576.99 L267.76,578.12 L270.56,579.22 L273.36,580.3 L276.17,581.37 L278.99,582.41 L281.82,583.43 L284.65,584.43 L287.49,585.42 L290.34,586.38 L293.19,587.33 L296.05,588.25 L298.92,589.16 L301.79,590.04 L304.66,590.91 L307.55,591.76 L310.44,592.59 L313.33,593.4 L316.23,594.19 L319.13,594.97 L322.04,595.72 L324.96,596.46 L327.88,597.18 L330.8,597.88 L333.73,598.56 L336.66,599.23 L339.6,599.87 L342.54,600.5 L345.48,601.11 L348.43,601.71 L351.38,602.28 L354.34,602.84 L357.3,603.39 L360.26,603.91 L363.22,604.42 L366.19,604.91 L369.16,605.39 L372.14,605.86 L375.11,606.31 L378.09,606.74 L381.08,607.16 L384.06,607.57 L387.05,607.97 L390.04,608.35 L393.03,608.72 L396.02,609.08 L399.02,609.43 L402.01,609.77 L405.01,610.1 L408.02,610.41 L411.02,610.72 L414.02,611.02 L417.03,611.31 L420.04,611.59 L423.04,611.87 L426.05,612.14 L429.06,612.39 L432.08,612.65 L435.09,612.89 L438.1,613.13 L441.11,613.37 L444.13,613.6 L447.14,613.83 L450.16,614.05 L453.18,614.26 L456.19,614.48 L459.21,614.69 L462.22,614.9 L465.24,615.1 L468.25,615.31 L471.27,615.51 L474.28,615.71 L477.3,615.92 L480.31,616.12 L483.33,616.32 L486.34,616.52 L489.35,616.72 L492.36,616.93 L495.37,617.14 L498.38,617.35 L501.39,617.56 L504.39,617.77 L507.4,617.99 L510.4,618.21 L513.4,618.44 L516.4,618.66 L519.4,618.89 L522.4,619.12 L525.4,619.35 L528.39,619.58 L531.39,619.81 L534.39,620.03 L537.39,620.26 L540.38,620.48 L543.38,620.7 L546.38,620.91 L549.38,621.12 L552.37,621.33 L555.37,621.53 L558.37,621.72 L561.38,621.91 L564.38,622.09 L567.38,622.26 L570.39,622.43 L573.39,622.6 L576.4,622.76 L579.4,622.91 L582.41,623.07 L585.42,623.22 L588.42,623.37 L591.43,623.52 L594.44,623.67 L597.45,623.81 L600.46,623.96 L603.47,624.11 L606.48,624.26 L609.49,624.41 L612.49,624.56 L615.5,624.71 L618.51,624.87 L621.52,625.03 L624.53,625.19 L627.54,625.35 L630.55,625.51 L633.56,625.67 L636.56,625.84 L639.57,626.01 L642.58,626.17 L645.59,626.34 L648.6,626.51 L651.61,626.68 L654.62,626.85 L657.62,627.03 L660.63,627.2 L663.64,627.37 L666.65,627.55 L669.66,627.72 L672.67,627.9 L675.67,628.08 L678.68,628.25 L681.69,628.43 L684.7,628.61 L687.71,628.78 L690.72,628.96 L693.72,629.14 L696.73,629.31 L699.74,629.49 L702.75,629.67 L705.76,629.84 L708.77,630.02 L711.78,630.19 L714.78,630.37 L717.79,630.54 L720.8,630.71 L723.81,630.89 L726.82,631.06 L729.83,631.23 L732.84,631.4 L735.84,631.57 L738.85,631.73 L741.86,631.9 L744.87,632.06 L747.88,632.23 L750.89,632.39 L753.9,632.55 L756.91,632.71 L759.92,632.86 L762.92,633.02 L765.93,633.17 L768.94,633.32 L771.95,633.47 L774.96,633.62 L777.97,633.76 L780.98,633.91 L783.99,634.05 L787,634.18 L790.01,634.32 L793.02,634.45 L796.03,634.58 L799.04,634.71 L802.05,634.84 L805.06,634.96 L808.07,635.08 L811.08,635.2 L814.09,635.31 L817.1,635.43 L820.11,635.54 L823.12,635.64 L826.13,635.75 L829.14,635.85 L832.15,635.95 L835.16,636.05 L838.18,636.15 L841.19,636.24 L844.2,636.34 L847.21,636.43 L850.22,636.52 L853.23,636.6 L856.24,636.69 L859.25,636.77 L862.27,636.85 L865.28,636.93 L868.29,637 L871.3,637.08 L874.31,637.15 L877.32,637.22 L880.33,637.29 L883.35,637.35 L886.36,637.42 L889.37,637.48 L892.38,637.55 L895.39,637.61 L898.41,637.66 L901.42,637.72 L904.43,637.78 L907.44,637.83 L910.46,637.88 L913.47,637.94 L916.48,637.99 L919.49,638.03 L922.5,638.08 L925.52,638.13 L928.53,638.17 L931.54,638.21 L934.55,638.26 L937.57,638.3 L940.58,638.34 L943.59,638.38 L946.6,638.41 L949.62,638.45 L952.63,638.48 L955.64,638.52 L958.66,638.55 L961.67,638.58 L964.68,638.62 L967.69,638.65 L970.71,638.68 L973.72,638.7 L976.73,638.73 L979.75,638.76 L982.76,638.79 L985.77,638.81 L988.78,638.84 L991.8,638.86 L994.81,638.89 L997.82,638.91 L1000.84,638.93 L1003.85,638.96 L1006.86,638.98 L1009.87,639 L1012.89,639.02 L1015.9,639.04 L1018.91,639.06 L1021.93,639.08 L1024.94,639.1 L1027.95,639.12 L1030.97,639.14 L1033.98,639.16 L1036.99,639.18 L1040,639.2 L1043.02,639.21 L1046.03,639.23 L1049.04,639.25 L1052.06,639.27 L1055.07,639.29 L1058.08,639.3 L1061.1,639.32 L1064.11,639.34 L1067.12,639.35 L1070.14,639.37 L1073.15,639.38 L1076.16,639.4 L1079.17,639.41 L1082.19,639.43 L1085.2,639.44 L1088.21,639.46 L1091.23,639.47 L1094.24,639.48 L1097.25,639.5 L1100.27,639.51 L1103.28,639.52 L1106.29,639.53 L1109.3,639.54 L1112.32,639.56 L1115.33,639.57 L1118.34,639.58 L1121.36,639.59 L1124.37,639.6 L1127.38,639.61 L1130.39,639.62 L1133.41,639.63 L1136.42,639.63 L1139.43,639.64 L1142.45,639.65 L1145.46,639.66 L1148.47,639.66 L1151.49,639.67 L1154.5,639.68 L1157.51,639.68 L1160.52,639.69 L1163.54,639.69 L1166.55,639.7 L1169.56,639.7 L1172.58,639.7 L1175.59,639.71 L1178.6,639.71 L1181.61,639.71 L1184.63,639.71 L1187.64,639.71 L1190.65,639.71 L1193.67,639.71 L1196.68,639.71 L1199.69,639.71 L1202.71,639.71 L1205.72,639.71 L1208.73,639.71 L1211.74,639.71 L1214.76,639.7 L1217.77,639.7 L1220.78,639.69 L1223.8,639.69 L1226.81,639.69 L1229.82,639.68 L1232.83,639.67 L1235.85,639.67 L1238.86,639.66 L1241.87,639.65 L1244.89,639.64 L1247.9,639.63 L1250.91,639.63 L1253.92,639.62 L1256.94,639.61 L1259.95,639.59 L1262.96,639.58 L1265.97,639.57 L1268.99,639.56 L1272,639.54 L1275.01,639.53 L1278.03,639.52 L1281.04,639.5 L1284.05,639.49 L1287.06,639.47 L1290.08,639.45 L1293.09,639.44 L1296.1,639.42 L1299.12,639.4 L1302.13,639.38 L1305.14,639.36 L1308.15,639.34 L1311.17,639.32 L1314.18,639.3 L1317.19,639.27 L1320.2,639.25 L1323.22,639.23 L1326.23,639.2 L1329.24,639.18 L1332.25,639.15 L1335.27,639.13 L1338.28,639.1 L1341.29,639.07 L1344.31,639.04 L1347.32,639.01 L1350.33,638.98 L1353.34,638.95 L1356.36,638.92 L1359.37,638.89 L1362.38,638.86 L1365.39,638.83 L1368.41,638.79 L1371.42,638.76 L1374.43,638.72 L1377.44,638.69 L1380.46,638.65 L1383.47,638.61 L1386.48,638.57 L1389.49,638.53 L1392.51,638.5 L1395.52,638.45 L1398.53,638.41 L1401.54,638.37 L1404.56,638.33 L1407.57,638.29 L1410.58,638.24 L1413.59,638.2 L1416.61,638.15 L1419.62,638.1 L1422.63,638.06 L1425.64,638.01 L1428.66,637.96 L1431.67,637.91 L1434.68,637.86 L1437.69,637.81 L1440.71,637.76 L1443.72,637.7 L1446.73,637.65 L1449.74,637.59 L1452.76,637.54 L1455.77,637.48 L1458.78,637.43 L1461.79,637.37 L1464.8,637.31 L1467.82,637.25 L1470.83,637.19 L1473.84,637.13 L1476.85,637.07 L1479.87,637 L1482.88,636.94 L1485.89,636.87 L1488.9,636.81 L1491.91,636.74 L1494.93,636.67 L1497.94,636.61 L1500.95,636.54 L1503.96,636.47 L1506.98,636.4 L1509.99,636.32 L1513,636.25"/>
<polygon points="165.3,525.4 179.15,527.91 174.64,535.93" fill="#191970" stroke="#191970" stroke-width="1"/>
<path class="e" stroke="#191970" d="M248,257 L251.01,256.99 L254.02,256.97 L257.03,256.96 L260.04,256.94 L263.05,256.92 L266.06,256.91 L269.07,256.89 L272.08,256.87 L275.09,256.85 L278.1,256.83 L281.11,256.81 L284.12,256.79 L287.13,256.77 L290.14,256.75 L293.15,256.73 L296.16,256.71 L299.17,256.69 L302.18,256.67 L305.19,256.65 L308.2,256.63 L311.21,256.61 L314.22,256.58 L317.23,256.56 L320.24,256.54 L323.25,256.52 L326.26,256.5 L329.27,256.47 L332.28,256.45 L335.29,256.43 L338.3,256.41 L341.31,256.39 L344.32,256.36 L347.33,256.34 L350.34,256.32 L353.36,256.3 L356.37,256.28 L359.38,256.26 L362.39,256.24 L365.4,256.22 L368.41,256.19 L371.42,256.17 L374.43,256.15 L377.44,256.13 L380.45,256.12 L383.46,256.1 L386.47,256.08 L389.48,256.06 L392.49,256.04 L395.5,256.02 L398.52,256.01 L401.53,255.99 L404.54,255.97 L407.55,255.96 L410.56,255.94 L413.57,255.93 L416.58,255.91 L419.59,255.9 L422.6,255.89 L425.61,255.88 L428.62,255.86 L431.63,255.85 L434.65,255.84 L437.66,255.83 L440.67,255.82 L443.68,255.82 L446.69,255.81 L449.7,255.8 L452.71,255.8 L455.72,255.79 L458.73,255.79 L461.74,255.78 L464.75,255.78 L467.76,255.78 L470.78,255.78 L473.79,255.78 L476.8,255.78 L479.81,255.78 L482.82,255.79 L485.83,255.79 L488.84,255.8 L491.85,255.8 L494.86,255.81 L497.87,255.82 L500.88,255.83 L503.89,255.84 L506.9,255.85 L509.91,255.87 L512.93,255.88 L515.94,255.9 L518.95,255.91 L521.96,255.93 L524.97,255.95 L527.98,255.97 L530.99,255.99 L534,256.02 L537.01,256.04 L540.02,256.07 L543.03,256.09 L546.04,256.12 L549.05,256.15 L552.06,256.19 L555.07,256.22 L558.08,256.25 L561.09,256.29 L564.1,256.33 L567.11,256.37 L570.12,256.41 L573.13,256.45 L576.15,256.5 L579.16,256.54 L582.17,256.59 L585.18,256.64 L588.19,256.69 L591.2,256.74 L594.21,256.8 L597.22,256.85 L600.23,256.91 L603.24,256.97 L606.25,257.03 L609.26,257.09 L612.27,257.16 L615.28,257.23 L618.29,257.3 L621.29,257.37 L624.3,257.44 L627.31,257.51 L630.32,257.59 L633.33,257.67 L636.34,257.75 L639.35,257.83 L642.36,257.92 L645.37,258.01 L648.38,258.1 L651.39,258.19 L654.4,258.28 L657.41,258.38 L660.42,258.47 L663.43,258.57 L666.44,258.68 L669.45,258.78 L672.45,258.89 L675.46,259 L678.47,259.11 L681.48,259.22 L684.49,259.34 L687.5,259.45 L690.51,259.58 L693.52,259.7 L696.53,259.82 L699.53,259.95 L702.54,260.08 L705.55,260.22 L708.56,260.35 L711.57,260.49 L714.58,260.63 L717.58,260.77 L720.59,260.92 L723.6,261.07 L726.61,261.22 L729.62,261.37 L732.62,261.53 L735.63,261.68 L738.64,261.85 L741.65,262.01 L744.65,262.18 L747.66,262.34 L750.67,262.52 L753.67,262.69 L756.68,262.87 L759.69,263.05 L762.69,263.23 L765.7,263.41 L768.7,263.6 L771.71,263.79 L774.71,263.99 L777.72,264.18 L780.72,264.38 L783.73,264.58 L786.73,264.79 L789.74,264.99 L792.74,265.2 L795.74,265.41 L798.74,265.63 L801.75,265.85 L804.75,266.07 L807.75,266.29 L810.75,266.52 L813.75,266.75 L816.75,266.98 L819.75,267.22 L822.75,267.46 L825.75,267.7 L828.75,267.94 L831.75,268.19 L834.75,268.44 L837.74,268.69 L840.74,268.95 L843.74,269.2 L846.73,269.47 L849.73,269.73 L852.73,270 L855.72,270.27 L858.72,270.54 L861.71,270.81 L864.71,271.09 L867.7,271.37 L870.69,271.65 L873.69,271.94 L876.68,272.22 L879.68,272.51 L882.68,272.8 L885.67,273.1 L888.67,273.39 L891.66,273.69 L894.66,273.98 L897.66,274.28 L900.66,274.58 L903.66,274.89 L906.66,275.19 L909.66,275.5 L912.66,275.8 L915.66,276.11 L918.66,276.42 L921.67,276.74 L924.67,277.06 L927.67,277.38 L930.67,277.71 L933.67,278.05 L936.67,278.39 L939.67,278.75 L942.67,279.11 L945.66,279.48 L948.66,279.86 L951.65,280.25 L954.64,280.66 L957.63,281.07 L960.61,281.5 L963.59,281.95 L966.57,282.41 L969.54,282.88 L972.51,283.37 L975.48,283.88 L978.44,284.4 L981.4,284.94 L984.36,285.5 L987.31,286.08 L990.25,286.67 L993.19,287.29 L996.13,287.91 L999.07,288.56 L1002,289.22 L1004.92,289.89 L1007.84,290.58 L1010.76,291.29 L1013.68,292.01 L1016.59,292.75 L1019.5,293.5 L1022.4,294.27 L1025.3,295.05 L1028.2,295.84 L1031.09,296.65 L1033.98,297.47 L1036.86,298.31 L1039.75,299.16 L1042.63,300.02 L1045.5,300.9 L1048.37,301.78 L1051.24,302.68 L1054.11,303.6 L1056.97,304.52 L1059.83,305.45 L1062.68,306.4 L1065.54,307.36 L1068.38,308.33 L1071.23,309.31 L1074.07,310.3 L1076.91,311.3 L1079.75,312.31 L1082.59,313.33 L1085.42,314.36 L1088.24,315.4 L1091.07,316.45 L1093.89,317.5 L1096.71,318.57 L1099.53,319.65 L1102.34,320.73 L1105.15,321.82 L1107.96,322.92 L1110.77,324.03 L1113.57,325.14 L1116.37,326.26 L1119.17,327.39 L1121.97,328.53 L1124.76,329.67 L1127.55,330.82 L1130.34,331.97 L1133.13,333.13 L1135.91,334.29 L1138.69,335.47 L1141.47,336.64 L1144.25,337.82 L1147.02,339.01 L1149.79,340.2 L1152.56,341.39 L1155.33,342.59 L1158.1,343.79 L1160.86,345 L1163.63,346.21 L1166.39,347.43 L1169.14,348.64 L1171.9,349.86 L1174.65,351.09 L1177.41,352.32 L1180.15,353.55 L1182.9,354.79 L1185.65,356.03 L1188.39,357.28 L1191.13,358.53 L1193.87,359.78 L1196.61,361.04 L1199.34,362.3 L1202.08,363.56 L1204.81,364.83 L1207.53,366.1 L1210.26,367.38 L1212.98,368.66 L1215.71,369.95 L1218.43,371.24 L1221.14,372.53 L1223.86,373.83 L1226.57,375.13 L1229.28,376.44 L1231.99,377.75 L1234.7,379.06 L1237.4,380.38 L1240.1,381.7 L1242.8,383.03 L1245.5,384.36 L1248.2,385.7 L1250.89,387.04 L1253.58,388.38 L1256.27,389.73 L1258.95,391.08 L1261.64,392.44 L1264.32,393.8 L1267,395.17 L1269.68,396.54 L1272.35,397.92 L1275.03,399.29 L1277.7,400.68 L1280.36,402.07 L1283.03,403.46 L1285.69,404.86 L1288.35,406.26 L1291.01,407.66 L1293.67,409.08 L1296.32,410.49 L1298.98,411.91 L1301.63,413.34 L1304.27,414.76 L1306.92,416.2 L1309.56,417.64 L1312.2,419.08 L1314.84,420.53 L1317.47,421.98 L1320.11,423.44 L1322.74,424.9 L1325.37,426.36 L1327.99,427.84 L1330.61,429.31 L1333.24,430.79 L1335.85,432.28 L1338.47,433.77 L1341.08,435.26 L1343.7,436.76 L1346.31,438.27 L1348.91,439.77 L1351.52,441.29 L1354.12,442.8 L1356.72,444.32 L1359.32,445.85 L1361.92,447.37 L1364.52,448.9 L1367.11,450.43 L1369.71,451.96 L1372.3,453.5 L1374.89,455.03 L1377.48,456.57 L1380.08,458.11 L1382.67,459.65 L1385.26,461.19 L1387.85,462.73 L1390.44,464.27 L1393.03,465.81 L1395.62,467.34 L1398.21,468.88 L1400.8,470.42 L1403.39,471.95 L1405.98,473.49 L1408.58,475.02 L1411.17,476.55 L1413.77,478.07 L1416.36,479.6 L1418.96,481.12 L1421.56,482.64 L1424.16,484.15 L1426.76,485.66 L1429.36,487.17 L1431.97,488.68 L1434.57,490.18 L1437.17,491.69 L1439.77,493.2 L1442.37,494.71 L1444.97,496.22 L1447.56,497.74 L1450.16,499.26 L1452.74,500.79 L1455.33,502.32 L1457.91,503.87 L1460.48,505.42 L1463.05,506.98 L1465.62,508.55 L1468.18,510.12 L1470.73,511.71 L1473.28,513.31 L1475.82,514.92 L1478.36,516.53 L1480.89,518.15 L1483.42,519.78 L1485.95,521.42 L1488.47,523.06 L1490.98,524.71 L1493.5,526.36 L1496.01,528.02 L1498.52,529.69 L1501.02,531.36 L1503.52,533.03 L1506.03,534.71 L1508.52,536.39 L1511.02,538.08 L1513.52,539.76 L1516.01,541.45 L1518.5,543.14 L1520.99,544.84 L1523.48,546.53 L1525.97,548.22 L1528.46,549.92 L1530.95,551.61 L1533.44,553.31 L1535.93,555 L1538.42,556.7 L1540.91,558.4 L1543.39,560.1 L1545.88,561.8 L1548.36,563.5 L1550.84,565.21 L1553.32,566.92 L1555.79,568.63 L1558.26,570.35 L1560.73,572.08 L1563.19,573.81 L1565.65,575.54 L1568.11,577.28 L1570.56,579.02 L1573.01,580.77 L1575.46,582.53 L1577.9,584.28 L1580.34,586.04 L1582.78,587.81 L1585.21,589.58 L1587.64,591.35 L1590.07,593.13 L1592.5,594.91 L1594.92,596.69 L1597.35,598.48 L1599.77,600.27 L1602.19,602.06 L1604.6,603.86 L1607.02,605.65 L1609.43,607.45 L1611.85,609.25 L1614.26,611.06 L1616.67,612.86 L1619.08,614.67 L1621.49,616.48 L1623.89,618.29 L1626.3,620.1"/>
<polygon points="235.6,257.5 248.7,252.37 249.07,261.56" fill="#191970" stroke="#191970" stroke-width="1"/>
<path class="e" stroke="#191970" d="M1268.5,709.5 L1271.54,709.3 L1274.58,709.08 L1277.62,708.84 L1280.66,708.59 L1283.69,708.32 L1286.73,708.04 L1289.76,707.75 L1292.79,707.44 L1295.82,707.13 L1298.85,706.8 L1301.88,706.46 L1304.91,706.11 L1307.94,705.75 L1310.97,705.39 L1313.99,705.02 L1317.02,704.64 L1320.04,704.26 L1323.07,703.87 L1326.1,703.48 L1329.12,703.08 L1332.15,702.68 L1335.17,702.28 L1338.2,701.88 L1341.22,701.48 L1344.25,701.07 L1347.28,700.67 L1350.3,700.27 L1353.33,699.88 L1356.36,699.48 L1359.39,699.09 L1362.42,698.7 L1365.44,698.3 L1368.47,697.91 L1371.5,697.52 L1374.53,697.13 L1377.56,696.74 L1380.59,696.35 L1383.62,695.96 L1386.65,695.56 L1389.68,695.17 L1392.7,694.77 L1395.73,694.37 L1398.76,693.96 L1401.78,693.55 L1404.81,693.14 L1407.83,692.72 L1410.86,692.3 L1413.88,691.88 L1416.9,691.45 L1419.93,691.01 L1422.95,690.57 L1425.96,690.12 L1428.98,689.66 L1432,689.2 L1435.01,688.72 L1438.03,688.25 L1441.04,687.76 L1444.05,687.26 L1447.06,686.76 L1450.06,686.24 L1453.07,685.72 L1456.07,685.18 L1459.07,684.64 L1462.07,684.08 L1465.07,683.52 L1468.06,682.94 L1471.06,682.35 L1474.05,681.75 L1477.04,681.15 L1480.02,680.52 L1483,679.89 L1485.98,679.25 L1488.96,678.59 L1491.93,677.92 L1494.91,677.24 L1497.88,676.55 L1500.84,675.84 L1503.8,675.12 L1506.76,674.39 L1509.72,673.65 L1512.67,672.89 L1515.62,672.12 L1518.57,671.33 L1521.51,670.53 L1524.45,669.72 L1527.38,668.89 L1530.31,668.05 L1533.24,667.19 L1536.17,666.32 L1539.09,665.44 L1542.01,664.55 L1544.92,663.65 L1547.84,662.74 L1550.75,661.82 L1553.65,660.9 L1556.56,659.96 L1559.46,659.02 L1562.37,658.07 L1565.27,657.12 L1568.17,656.16 L1571.06,655.2 L1573.96,654.23 L1576.86,653.26 L1579.75,652.29 L1582.64,651.32 L1585.54,650.35 L1588.43,649.38 L1591.32,648.4 L1594.21,647.43 L1597.11,646.47 L1600,645.5"/>
<polygon points="1255.6,711.2 1268.18,704.9 1269.39,714.02" fill="#191970" stroke="#191970" stroke-width="1"/>
<path class="e" stroke="#191970" d="M1230.1,751.4 L1233.08,750.8 L1236.06,750.21 L1239.04,749.62 L1242.02,749.04 L1245.01,748.47 L1247.99,747.9 L1250.98,747.34 L1253.97,746.78 L1256.96,746.23 L1259.95,745.68 L1262.95,745.14 L1265.94,744.6 L1268.94,744.07 L1271.93,743.53 L1274.93,743.01 L1277.93,742.48 L1280.93,741.96 L1283.93,741.44 L1286.93,740.92 L1289.93,740.41 L1292.93,739.89 L1295.93,739.38 L1298.93,738.87 L1301.94,738.36 L1304.94,737.85 L1307.94,737.34 L1310.94,736.83 L1313.95,736.32 L1316.95,735.81 L1319.95,735.3 L1322.96,734.78 L1325.96,734.27 L1328.96,733.75 L1331.96,733.24 L1334.96,732.71 L1337.96,732.19 L1340.96,731.67 L1343.96,731.14 L1346.96,730.6 L1349.96,730.07 L1352.95,729.53 L1355.95,728.98 L1358.94,728.43 L1361.94,727.88 L1364.93,727.32 L1367.92,726.76 L1370.91,726.19 L1373.9,725.61 L1376.88,725.03 L1379.87,724.44 L1382.85,723.84 L1385.83,723.24 L1388.81,722.63 L1391.79,722.01 L1394.76,721.39 L1397.74,720.76 L1400.71,720.11 L1403.68,719.46 L1406.64,718.8 L1409.61,718.13 L1412.57,717.45 L1415.53,716.77 L1418.49,716.07 L1421.44,715.36 L1424.4,714.64 L1427.35,713.91 L1430.29,713.16 L1433.24,712.41 L1436.18,711.65 L1439.11,710.87 L1442.05,710.09 L1444.98,709.29 L1447.91,708.48 L1450.84,707.67 L1453.76,706.84 L1456.68,706 L1459.6,705.15 L1462.52,704.29 L1465.43,703.42 L1468.34,702.54 L1471.24,701.65 L1474.15,700.75 L1477.05,699.84 L1479.94,698.92 L1482.84,697.99 L1485.73,697.05 L1488.62,696.1 L1491.5,695.14 L1494.39,694.18 L1497.26,693.2 L1500.14,692.21 L1503.01,691.21 L1505.88,690.2 L1508.75,689.19 L1511.61,688.16 L1514.47,687.13 L1517.33,686.08 L1520.18,685.03 L1523.03,683.96 L1525.88,682.89 L1528.73,681.81 L1531.57,680.72 L1534.41,679.62 L1537.24,678.52 L1540.07,677.4 L1542.9,676.27 L1545.72,675.14 L1548.55,674 L1551.36,672.85 L1554.18,671.69 L1556.99,670.52 L1559.8,669.35 L1562.6,668.16 L1565.41,666.97 L1568.2,665.77 L1571,664.56 L1573.79,663.34 L1576.58,662.12 L1579.36,660.89 L1582.14,659.65 L1584.92,658.4 L1587.69,657.14 L1590.46,655.88 L1593.23,654.61 L1595.99,653.33 L1598.75,652.04 L1601.51,650.75 L1604.26,649.45 L1607.01,648.14 L1609.76,646.82 L1612.5,645.5"/>
<polygon points="1217.5,753.5 1229.86,746.78 1231.38,755.85" fill="#191970" stroke="#191970" stroke-width="1"/>
<path class="e d" stroke="#9a32cd" d="M194.1,139 L196.98,138.24 L199.86,137.45 L202.74,136.64 L205.63,135.81 L208.52,134.97 L211.42,134.11 L214.32,133.24 L217.22,132.36 L220.12,131.48 L223.03,130.59 L225.94,129.71 L228.85,128.82 L231.77,127.94 L234.69,127.07 L237.62,126.2 L240.54,125.35 L243.47,124.51 L246.41,123.69 L249.35,122.9 L252.29,122.12 L255.23,121.37 L258.18,120.65 L261.13,119.95 L264.09,119.3 L267.04,118.67 L270.01,118.09 L272.97,117.54 L275.94,117.03 L278.91,116.55 L281.89,116.11 L284.86,115.7 L287.85,115.33 L290.83,114.98 L293.82,114.66 L296.8,114.37 L299.8,114.11 L302.79,113.87 L305.79,113.66 L308.78,113.48 L311.79,113.31 L314.79,113.17 L317.79,113.04 L320.8,112.94 L323.81,112.85 L326.82,112.78 L329.83,112.73 L332.84,112.68 L335.85,112.66 L338.87,112.64 L341.88,112.64 L344.9,112.64 L347.92,112.66 L350.93,112.68 L353.95,112.7 L356.97,112.74 L359.99,112.77 L363.01,112.81 L366.03,112.85 L369.06,112.89 L372.08,112.94 L375.1,112.97 L378.12,113.01 L381.14,113.05 L384.16,113.09 L387.18,113.12 L390.2,113.16 L393.22,113.19 L396.24,113.22 L399.27,113.26 L402.29,113.29 L405.31,113.32 L408.33,113.35 L411.35,113.38 L414.37,113.4 L417.39,113.43 L420.41,113.46 L423.44,113.48 L426.46,113.51 L429.48,113.53 L432.5,113.56 L435.52,113.58 L438.54,113.6 L441.56,113.62 L444.59,113.64 L447.61,113.67 L450.63,113.69 L453.65,113.71 L456.67,113.72 L459.69,113.74 L462.72,113.76 L465.74,113.78 L468.76,113.8 L471.78,113.81 L474.8,113.83 L477.82,113.85 L480.84,113.86 L483.87,113.88 L486.89,113.89 L489.91,113.91 L492.93,113.92 L495.95,113.94 L498.97,113.95 L501.99,113.97 L505.02,113.98 L508.04,114 L511.06,114.01 L514.08,114.02 L517.1,114.04 L520.12,114.05 L523.15,114.06 L526.17,114.08 L529.19,114.09 L532.21,114.1 L535.23,114.12 L538.25,114.13 L541.27,114.14 L544.3,114.16 L547.32,114.17 L550.34,114.19 L553.36,114.2 L556.38,114.21 L559.4,114.23 L562.42,114.24 L565.44,114.26 L568.47,114.27 L571.49,114.29 L574.51,114.3 L577.53,114.32 L580.55,114.34 L583.57,114.35 L586.59,114.37 L589.61,114.39 L592.63,114.41 L595.66,114.42 L598.68,114.44 L601.7,114.46 L604.72,114.48 L607.74,114.5 L610.76,114.52 L613.78,114.54 L616.8,114.57 L619.82,114.59 L622.84,114.61 L625.86,114.63 L628.88,114.66 L631.9,114.68 L634.92,114.71 L637.95,114.74 L640.97,114.76 L643.99,114.79 L647.01,114.82 L650.03,114.85 L653.05,114.88 L656.07,114.91 L659.09,114.94 L662.11,114.97 L665.13,115.01 L668.15,115.04 L671.17,115.08 L674.19,115.12 L677.21,115.15 L680.23,115.19 L683.25,115.23 L686.27,115.27 L689.29,115.31 L692.31,115.36 L695.32,115.4 L698.34,115.44 L701.36,115.49 L704.38,115.54 L707.4,115.58 L710.42,115.63 L713.44,115.68 L716.46,115.74 L719.48,115.79 L722.5,115.84 L725.52,115.9 L728.54,115.96 L731.55,116.02 L734.57,116.07 L737.59,116.14 L740.61,116.2 L743.63,116.26 L746.65,116.33 L749.67,116.39 L752.68,116.46 L755.7,116.53 L758.72,116.6 L761.74,116.68 L764.76,116.75 L767.77,116.83 L770.79,116.9 L773.81,116.98 L776.83,117.06 L779.84,117.15 L782.86,117.23 L785.88,117.32 L788.9,117.4 L791.91,117.49 L794.93,117.58 L797.95,117.68 L800.96,117.77 L803.98,117.87 L807,117.97 L810.01,118.07 L813.03,118.17 L816.05,118.27 L819.06,118.38 L822.08,118.48 L825.1,118.59 L828.11,118.7 L831.13,118.82 L834.14,118.93 L837.16,119.05 L840.18,119.17 L843.19,119.29 L846.21,119.42 L849.22,119.54 L852.24,119.67 L855.25,119.8 L858.27,119.93 L861.28,120.07 L864.3,120.2 L867.31,120.34 L870.33,120.48 L873.34,120.63 L876.36,120.77 L879.37,120.92 L882.39,121.07 L885.4,121.23 L888.41,121.38 L891.43,121.54 L894.44,121.7 L897.45,121.86 L900.47,122.03 L903.48,122.19 L906.5,122.36 L909.51,122.53 L912.52,122.71 L915.53,122.89 L918.55,123.07 L921.56,123.25 L924.57,123.43 L927.59,123.62 L930.6,123.81 L933.61,124.01 L936.62,124.2 L939.63,124.4 L942.65,124.6 L945.66,124.81 L948.67,125.01 L951.68,125.22 L954.69,125.43 L957.7,125.65 L960.71,125.87 L963.73,126.09 L966.74,126.31 L969.75,126.54 L972.76,126.77 L975.77,127 L978.78,127.24 L981.79,127.48 L984.8,127.72 L987.81,127.96 L990.82,128.21 L993.83,128.46 L996.84,128.72 L999.85,128.97 L1002.86,129.23 L1005.86,129.5 L1008.87,129.76 L1011.88,130.03 L1014.89,130.31 L1017.9,130.58 L1020.91,130.86 L1023.92,131.14 L1026.92,131.43 L1029.93,131.72 L1032.94,132.01 L1035.95,132.31 L1038.95,132.61 L1041.96,132.91 L1044.97,133.22 L1047.97,133.53 L1050.98,133.84 L1053.99,134.16 L1056.99,134.48 L1060,134.8"/>
<polygon points="180.4,143.1 191.82,134.88 194.46,143.69" fill="#9a32cd" stroke="#9a32cd" stroke-width="1"/>
<path class="e d" stroke="#9a32cd" d="M185.7,173.4 L188.35,174.9 L191.01,176.39 L193.68,177.87 L196.34,179.34 L199.02,180.81 L201.69,182.26 L204.37,183.71 L207.06,185.15 L209.74,186.58 L212.44,188.01 L215.13,189.42 L217.83,190.83 L220.54,192.23 L223.24,193.63 L225.95,195.02 L228.67,196.4 L231.38,197.77 L234.1,199.14 L236.83,200.5 L239.56,201.86 L242.29,203.2 L245.02,204.55 L247.75,205.88 L250.49,207.22 L253.23,208.54 L255.98,209.86 L258.72,211.18 L261.47,212.49 L264.23,213.8 L266.98,215.1 L269.74,216.39 L272.49,217.69 L275.25,218.98 L278.02,220.26 L280.78,221.54 L283.55,222.82 L286.32,224.09 L289.09,225.36 L291.86,226.62 L294.63,227.89 L297.41,229.15 L300.18,230.4 L302.96,231.66 L305.74,232.91 L308.52,234.16 L311.3,235.4 L314.08,236.65 L316.87,237.89 L319.65,239.13 L322.44,240.37 L325.22,241.61 L328.01,242.84 L330.8,244.08 L333.58,245.31 L336.37,246.55 L339.16,247.78 L341.95,249.01 L344.74,250.24 L347.53,251.47 L350.32,252.7 L353.11,253.93 L355.9,255.16 L358.69,256.39 L361.48,257.63 L364.26,258.86 L367.05,260.09 L369.84,261.32 L372.63,262.56 L375.41,263.8 L378.2,265.03 L380.99,266.27 L383.77,267.51 L386.55,268.75 L389.34,270 L392.12,271.24 L394.9,272.49 L397.68,273.74 L400.45,275 L403.23,276.25 L406.01,277.51 L408.78,278.77 L411.55,280.04 L414.33,281.3 L417.1,282.57 L419.87,283.84 L422.63,285.11 L425.4,286.39 L428.17,287.66 L430.93,288.94 L433.7,290.22 L436.46,291.51 L439.22,292.79 L441.98,294.08 L444.74,295.36 L447.5,296.65 L450.26,297.95 L453.02,299.24 L455.78,300.53 L458.53,301.83 L461.29,303.13 L464.05,304.43 L466.8,305.73 L469.55,307.03 L472.31,308.33 L475.06,309.64 L477.81,310.95 L480.56,312.25 L483.32,313.56 L486.07,314.87 L488.82,316.18 L491.57,317.49 L494.32,318.8 L497.07,320.12 L499.82,321.43 L502.56,322.74 L505.31,324.06 L508.06,325.37 L510.81,326.69 L513.56,328.01 L516.3,329.33 L519.05,330.66 L521.79,331.98 L524.53,333.32 L527.27,334.66 L530,336"/>
<polygon points="172.4,168.3 186.47,168.77 183.17,177.36" fill="#9a32cd" stroke="#9a32cd" stroke-width="1"/>
<path class="e d" stroke="#9a32cd" d="M707.3,340.3 L710.33,340.17 L713.37,340.04 L716.4,339.9 L719.43,339.76 L722.46,339.6 L725.49,339.44 L728.52,339.28 L731.55,339.11 L734.57,338.93 L737.6,338.75 L740.62,338.56 L743.65,338.37 L746.67,338.17 L749.7,337.97 L752.72,337.76 L755.74,337.55 L758.76,337.33 L761.78,337.11 L764.8,336.88 L767.82,336.65 L770.84,336.41 L773.86,336.17 L776.88,335.93 L779.9,335.68 L782.91,335.43 L785.93,335.18 L788.95,334.92 L791.96,334.66 L794.98,334.39 L798,334.13 L801.01,333.86 L804.03,333.58 L807.05,333.31 L810.06,333.03 L813.08,332.75 L816.09,332.47 L819.11,332.18 L822.12,331.9 L825.14,331.61 L828.15,331.32 L831.17,331.03 L834.19,330.74 L837.2,330.44 L840.22,330.15 L843.24,329.85 L846.25,329.55 L849.27,329.26 L852.29,328.96 L855.3,328.66 L858.32,328.36 L861.34,328.06 L864.36,327.76 L867.38,327.47 L870.4,327.17 L873.42,326.87 L876.44,326.57 L879.46,326.27 L882.48,325.98 L885.5,325.68 L888.53,325.39 L891.55,325.09 L894.58,324.8 L897.6,324.51 L900.63,324.22 L903.65,323.93 L906.68,323.63 L909.7,323.33 L912.73,323.03 L915.75,322.72 L918.77,322.4 L921.79,322.08 L924.81,321.75 L927.83,321.41 L930.84,321.06 L933.85,320.69 L936.86,320.32 L939.87,319.93 L942.87,319.53 L945.87,319.11 L948.87,318.68 L951.86,318.23 L954.85,317.76 L957.84,317.27 L960.82,316.77 L963.79,316.24 L966.76,315.69 L969.73,315.11 L972.69,314.52 L975.64,313.89 L978.59,313.24 L981.53,312.57 L984.46,311.85 L987.38,311.09 L990.27,310.25 L993.13,309.32 L995.95,308.28 L998.73,307.13 L1001.47,305.85 L1004.17,304.47 L1006.83,303 L1009.47,301.47 L1012.09,299.88 L1014.7,298.27 L1017.29,296.64 L1019.88,295.03 L1022.47,293.41 L1025.05,291.79 L1027.61,290.16 L1030.16,288.52 L1032.69,286.85 L1035.19,285.14 L1037.66,283.4 L1040.1,281.61 L1042.51,279.79 L1044.9,277.93 L1047.26,276.04 L1049.6,274.12 L1051.91,272.16 L1054.2,270.18 L1056.47,268.17 L1058.72,266.14 L1060.95,264.08 L1063.16,262.01 L1065.36,259.91 L1067.54,257.8 L1069.71,255.68 L1071.87,253.54 L1074.01,251.4 L1076.15,249.24 L1078.27,247.08 L1080.38,244.9 L1082.46,242.7 L1084.52,240.48 L1086.55,238.24 L1088.55,235.97 L1090.51,233.67 L1092.43,231.33 L1094.32,228.97 L1096.19,226.59 L1098.05,224.2 L1099.91,221.81 L1101.77,219.42 L1103.65,217.05 L1105.55,214.69 L1107.47,212.34 L1109.39,210 L1111.32,207.66 L1113.24,205.32 L1115.15,202.97 L1117.04,200.61 L1118.91,198.23 L1120.75,195.83 L1122.55,193.4 L1124.3,190.93 L1126.01,188.43 L1127.67,185.89 L1129.29,183.33 L1130.89,180.74 L1132.47,178.15 L1134.05,175.55 L1135.64,172.96 L1137.25,170.39 L1138.89,167.84 L1140.57,165.31 L1142.3,162.83 L1144.1,160.4"/>
<polygon points="693.5,341.4 706.39,335.76 707.12,344.93" fill="#9a32cd" stroke="#9a32cd" stroke-width="1"/>
<path class="e d" stroke="#9a32cd" d="M707.3,356.3 L710.33,356.46 L713.37,356.63 L716.4,356.8 L719.43,356.96 L722.46,357.14 L725.49,357.31 L728.52,357.48 L731.55,357.66 L734.58,357.83 L737.6,358.01 L740.63,358.19 L743.66,358.37 L746.68,358.56 L749.71,358.74 L752.73,358.93 L755.76,359.12 L758.78,359.31 L761.8,359.5 L764.83,359.69 L767.85,359.88 L770.87,360.08 L773.89,360.28 L776.91,360.48 L779.93,360.68 L782.95,360.88 L785.97,361.08 L788.99,361.29 L792.01,361.49 L795.03,361.7 L798.05,361.91 L801.07,362.12 L804.09,362.33 L807.11,362.55 L810.13,362.76 L813.15,362.98 L816.17,363.19 L819.19,363.41 L822.21,363.63 L825.22,363.86 L828.24,364.08 L831.26,364.3 L834.28,364.53 L837.3,364.76 L840.32,364.99 L843.34,365.22 L846.36,365.45 L849.38,365.68 L852.4,365.92 L855.42,366.15 L858.44,366.39 L861.46,366.63 L864.48,366.87 L867.51,367.11 L870.53,367.35 L873.55,367.59 L876.57,367.84 L879.6,368.09 L882.62,368.33 L885.64,368.58 L888.67,368.83 L891.69,369.08 L894.72,369.33 L897.75,369.59 L900.77,369.84 L903.8,370.1 L906.83,370.36 L909.86,370.61 L912.89,370.87 L915.92,371.14 L918.95,371.4 L921.98,371.66 L925.01,371.93 L928.05,372.19 L931.08,372.46 L934.11,372.73 L937.15,373 L940.18,373.28 L943.21,373.58 L946.24,373.89 L949.26,374.21 L952.28,374.56 L955.29,374.93 L958.3,375.33 L961.29,375.75 L964.28,376.21 L967.26,376.71 L970.22,377.24 L973.18,377.82 L976.12,378.44 L979.05,379.11 L981.96,379.83 L984.86,380.61 L987.74,381.44 L990.61,382.34 L993.45,383.29 L996.28,384.32 L999.08,385.41 L1001.87,386.57 L1004.63,387.79 L1007.37,389.07 L1010.1,390.41 L1012.8,391.8 L1015.49,393.23 L1018.15,394.71 L1020.8,396.23 L1023.42,397.78 L1026.03,399.36 L1028.61,400.96 L1031.18,402.59 L1033.73,404.25 L1036.26,405.93 L1038.77,407.63 L1041.27,409.36 L1043.74,411.11 L1046.2,412.88 L1048.64,414.68 L1051.07,416.49 L1053.47,418.33 L1055.86,420.19 L1058.24,422.07 L1060.6,423.97 L1062.94,425.88 L1065.26,427.82 L1067.57,429.78 L1069.87,431.75 L1072.15,433.74 L1074.41,435.75 L1076.66,437.77 L1078.9,439.81 L1081.12,441.87 L1083.33,443.94 L1085.52,446.03 L1087.7,448.13 L1089.87,450.24 L1092.02,452.37 L1094.16,454.51 L1096.29,456.67 L1098.41,458.84 L1100.51,461.01 L1102.6,463.21 L1104.67,465.41 L1106.74,467.63 L1108.79,469.85 L1110.83,472.09 L1112.85,474.35 L1114.86,476.61 L1116.86,478.89 L1118.85,481.18 L1120.82,483.48 L1122.78,485.79 L1124.72,488.12 L1126.65,490.45 L1128.57,492.8 L1130.47,495.16 L1132.36,497.53 L1134.24,499.91 L1136.1,502.31 L1137.94,504.71 L1139.78,507.13 L1141.59,509.56 L1143.4,512"/>
<polygon points="693.5,355.6 707.02,351.68 706.55,360.87" fill="#9a32cd" stroke="#9a32cd" stroke-width="1"/>
<path class="e d" stroke="#9a32cd" d="M1126.7,504.3 L1124.32,502.45 L1121.94,500.61 L1119.55,498.76 L1117.15,496.92 L1114.75,495.09 L1112.34,493.26 L1109.93,491.44 L1107.5,489.63 L1105.08,487.82 L1102.64,486.03 L1100.19,484.24 L1097.74,482.47 L1095.28,480.71 L1092.81,478.96 L1090.33,477.23 L1087.83,475.52 L1085.33,473.82 L1082.82,472.14 L1080.3,470.48 L1077.77,468.84 L1075.22,467.21 L1072.66,465.62 L1070.09,464.04 L1067.51,462.49 L1064.92,460.96 L1062.31,459.45 L1059.69,457.97 L1057.06,456.51 L1054.42,455.07 L1051.77,453.65 L1049.1,452.26 L1046.42,450.89 L1043.74,449.53 L1041.04,448.2 L1038.33,446.89 L1035.61,445.6 L1032.88,444.33 L1030.14,443.08 L1027.39,441.85 L1024.63,440.64 L1021.85,439.44 L1019.07,438.27 L1016.29,437.11 L1013.49,435.97 L1010.68,434.85 L1007.86,433.74 L1005.04,432.66 L1002.2,431.59 L999.36,430.55 L996.51,429.52 L993.65,428.51 L990.79,427.52 L987.92,426.56 L985.04,425.62 L982.15,424.69 L979.25,423.8 L976.35,422.92 L973.45,422.07 L970.53,421.24 L967.61,420.44 L964.69,419.66 L961.76,418.91 L958.82,418.18 L955.88,417.48 L952.94,416.81 L949.99,416.17 L947.03,415.55 L944.07,414.96 L941.11,414.41 L938.14,413.88 L935.17,413.38 L932.19,412.91 L929.21,412.47 L926.23,412.07 L923.25,411.69 L920.26,411.34 L917.27,411.02 L914.28,410.72 L911.28,410.45 L908.28,410.2 L905.28,409.98 L902.28,409.77 L899.27,409.59 L896.27,409.42 L893.26,409.27 L890.25,409.14 L887.23,409.02 L884.22,408.92 L881.2,408.83 L878.18,408.75 L875.17,408.68 L872.15,408.63 L869.12,408.58 L866.1,408.53 L863.08,408.49 L860.06,408.46 L857.03,408.43 L854.01,408.4 L850.98,408.38 L847.96,408.35 L844.93,408.32 L841.9,408.29 L838.88,408.26 L835.85,408.22 L832.83,408.18 L829.8,408.13 L826.78,408.08 L823.75,408.02 L820.73,407.95 L817.7,407.87 L814.68,407.79 L811.66,407.7 L808.64,407.59 L805.62,407.48 L802.6,407.36 L799.58,407.22 L796.57,407.07 L793.55,406.91 L790.54,406.74 L787.53,406.55 L784.52,406.35 L781.51,406.14 L778.5,405.9 L775.5,405.65 L772.5,405.39 L769.5,405.1 L766.5,404.8 L763.5,404.48 L760.51,404.14 L757.52,403.78 L754.53,403.4 L751.55,403 L748.56,402.58 L745.58,402.14 L742.61,401.67 L739.63,401.19 L736.66,400.68 L733.69,400.16 L730.73,399.61 L727.76,399.05 L724.8,398.47 L721.84,397.87 L718.89,397.26 L715.93,396.63 L712.98,395.98 L710.04,395.32 L707.09,394.64 L704.15,393.95 L701.21,393.24 L698.27,392.52 L695.33,391.79 L692.4,391.04 L689.47,390.28 L686.54,389.51 L683.62,388.73 L680.69,387.94 L677.77,387.14 L674.85,386.33 L671.94,385.5 L669.02,384.67 L666.11,383.83 L663.2,382.99 L660.29,382.13 L657.39,381.27 L654.48,380.4 L651.58,379.53 L648.68,378.65 L645.79,377.76 L642.89,376.87 L640,375.98 L637.11,375.08 L634.22,374.18 L631.34,373.28 L628.45,372.37 L625.57,371.47 L622.69,370.56 L619.81,369.65 L616.94,368.74 L614.06,367.83 L611.19,366.92 L608.32,366.01 L605.45,365.1 L602.59,364.2 L599.72,363.3 L596.86,362.4 L594,361.5"/>
<polygon points="1136.9,512.4 1123.62,507.73 1129.35,500.53" fill="#9a32cd" stroke="#9a32cd" stroke-width="1"/>
<path class="e d" stroke="#9a32cd" d="M684.9,439.6 L687.9,439.95 L690.9,440.3 L693.91,440.65 L696.91,441 L699.91,441.35 L702.92,441.69 L705.92,442.04 L708.92,442.38 L711.92,442.73 L714.93,443.07 L717.93,443.41 L720.94,443.75 L723.94,444.09 L726.94,444.43 L729.95,444.77 L732.95,445.11 L735.96,445.44 L738.96,445.78 L741.97,446.12 L744.97,446.45 L747.98,446.79 L750.98,447.12 L753.99,447.46 L756.99,447.79 L760,448.13 L763,448.46 L766.01,448.79 L769.01,449.13 L772.02,449.46 L775.02,449.79 L778.03,450.13 L781.03,450.46 L784.04,450.8 L787.04,451.13 L790.05,451.46 L793.05,451.8 L796.06,452.13 L799.06,452.47 L802.07,452.8 L805.08,453.14 L808.08,453.47 L811.09,453.81 L814.09,454.15 L817.1,454.49 L820.1,454.82 L823.11,455.16 L826.11,455.5 L829.11,455.84 L832.12,456.18 L835.12,456.52 L838.13,456.87 L841.13,457.21 L844.14,457.56 L847.14,457.9 L850.15,458.25 L853.15,458.6 L856.15,458.94 L859.16,459.29 L862.16,459.65 L865.16,460 L868.17,460.35 L871.17,460.71 L874.17,461.06 L877.17,461.42 L880.18,461.78 L883.18,462.14 L886.18,462.5 L889.18,462.87 L892.18,463.23 L895.19,463.6 L898.19,463.97 L901.19,464.34 L904.19,464.71 L907.19,465.09 L910.19,465.46 L913.19,465.84 L916.19,466.22 L919.19,466.61 L922.19,466.99 L925.19,467.38 L928.18,467.76 L931.18,468.16 L934.18,468.55 L937.18,468.94 L940.18,469.34 L943.17,469.74 L946.17,470.15 L949.17,470.55 L952.16,470.97 L955.15,471.38 L958.15,471.81 L961.14,472.24 L964.13,472.67 L967.12,473.12 L970.11,473.57 L973.09,474.03 L976.07,474.51 L979.06,474.99 L982.04,475.48 L985.01,475.99 L987.99,476.51 L990.96,477.04 L993.93,477.58 L996.89,478.14 L999.86,478.72 L1002.82,479.31 L1005.77,479.91 L1008.73,480.53 L1011.68,481.16 L1014.62,481.81 L1017.57,482.48 L1020.51,483.16 L1023.44,483.85 L1026.38,484.56 L1029.31,485.28 L1032.24,486.02 L1035.16,486.78 L1038.08,487.55 L1041,488.33 L1043.91,489.13 L1046.82,489.94 L1049.73,490.77 L1052.64,491.6 L1055.54,492.45 L1058.44,493.31 L1061.34,494.18 L1064.23,495.06 L1067.12,495.95 L1070.01,496.85 L1072.9,497.75 L1075.78,498.67 L1078.67,499.59 L1081.55,500.52 L1084.43,501.45 L1087.3,502.39 L1090.18,503.34 L1093.05,504.29 L1095.93,505.25 L1098.8,506.2 L1101.67,507.17 L1104.54,508.13 L1107.4,509.1 L1110.27,510.06 L1113.14,511.03 L1116,512"/>
<polygon points="672.2,437.4 686.09,435.14 684.52,444.2" fill="#9a32cd" stroke="#9a32cd" stroke-width="1"/>
<path class="e d" stroke="#9a32cd" d="M665.2,521.2 L668.24,521.32 L671.28,521.43 L674.31,521.54 L677.35,521.65 L680.39,521.76 L683.43,521.86 L686.47,521.95 L689.51,522.05 L692.54,522.14 L695.58,522.23 L698.62,522.31 L701.66,522.39 L704.7,522.47 L707.74,522.55 L710.78,522.62 L713.82,522.69 L716.86,522.75 L719.9,522.82 L722.94,522.88 L725.98,522.94 L729.02,522.99 L732.06,523.05 L735.1,523.1 L738.14,523.15 L741.18,523.19 L744.22,523.24 L747.26,523.28 L750.3,523.32 L753.34,523.36 L756.38,523.39 L759.42,523.43 L762.46,523.46 L765.5,523.49 L768.54,523.52 L771.58,523.54 L774.63,523.57 L777.67,523.59 L780.71,523.61 L783.75,523.63 L786.79,523.65 L789.83,523.66 L792.87,523.68 L795.91,523.69 L798.95,523.7 L802,523.71 L805.04,523.72 L808.08,523.73 L811.12,523.74 L814.16,523.74 L817.2,523.75 L820.25,523.75 L823.29,523.76 L826.33,523.76 L829.37,523.76 L832.41,523.76 L835.45,523.76 L838.5,523.76 L841.54,523.76 L844.58,523.76 L847.62,523.76 L850.66,523.76 L853.7,523.76 L856.75,523.75 L859.79,523.75 L862.83,523.75 L865.87,523.74 L868.91,523.74 L871.96,523.74 L875,523.74 L878.04,523.73 L881.08,523.73 L884.12,523.73 L887.16,523.72 L890.21,523.72 L893.25,523.72 L896.29,523.72 L899.33,523.72 L902.37,523.72 L905.41,523.72 L908.46,523.72 L911.5,523.72 L914.54,523.73 L917.58,523.73 L920.62,523.73 L923.66,523.74 L926.71,523.75 L929.75,523.75 L932.79,523.76 L935.83,523.77 L938.87,523.78 L941.91,523.79 L944.95,523.81 L947.99,523.82 L951.04,523.84 L954.08,523.86 L957.12,523.88 L960.16,523.9 L963.2,523.92 L966.24,523.94 L969.28,523.97 L972.32,524 L975.36,524.03 L978.4,524.06 L981.44,524.09 L984.48,524.13 L987.52,524.16 L990.56,524.2 L993.6,524.25 L996.64,524.29 L999.68,524.34 L1002.72,524.39 L1005.76,524.44 L1008.8,524.49 L1011.84,524.55 L1014.88,524.61 L1017.92,524.67 L1020.96,524.73 L1024,524.8"/>
<polygon points="652.6,521.2 665.9,516.6 665.9,525.8" fill="#9a32cd" stroke="#9a32cd" stroke-width="1"/>
<path class="e d" stroke="#9a32cd" d="M1292.8,539.5 L1295.82,539.89 L1298.85,540.29 L1301.87,540.69 L1304.89,541.1 L1307.92,541.52 L1310.94,541.94 L1313.96,542.36 L1316.98,542.8 L1320,543.23 L1323.02,543.68 L1326.04,544.13 L1329.05,544.58 L1332.07,545.04 L1335.09,545.51 L1338.1,545.99 L1341.11,546.47 L1344.13,546.95 L1347.14,547.44 L1350.15,547.94 L1353.16,548.45 L1356.17,548.96 L1359.18,549.47 L1362.19,550 L1365.19,550.53 L1368.2,551.06 L1371.2,551.6 L1374.2,552.15 L1377.21,552.71 L1380.21,553.27 L1383.21,553.83 L1386.2,554.41 L1389.2,554.99 L1392.2,555.57 L1395.19,556.17 L1398.18,556.77 L1401.18,557.37 L1404.17,557.99 L1407.16,558.61 L1410.14,559.23 L1413.13,559.87 L1416.11,560.51 L1419.1,561.15 L1422.08,561.81 L1425.06,562.47 L1428.04,563.13 L1431.01,563.81 L1433.99,564.49 L1436.96,565.17 L1439.94,565.87 L1442.91,566.57 L1445.88,567.28 L1448.84,567.99 L1451.81,568.72 L1454.77,569.44 L1457.73,570.18 L1460.69,570.92 L1463.65,571.68 L1466.61,572.43 L1469.56,573.2 L1472.51,573.97 L1475.46,574.75 L1478.41,575.54 L1481.36,576.33 L1484.3,577.13 L1487.25,577.94 L1490.19,578.76 L1493.12,579.58 L1496.06,580.41 L1498.99,581.25 L1501.93,582.09 L1504.86,582.95 L1507.78,583.81 L1510.71,584.68 L1513.63,585.55 L1516.55,586.44 L1519.47,587.33 L1522.39,588.22 L1525.3,589.13 L1528.21,590.05 L1531.12,590.97 L1534.03,591.9 L1536.93,592.83 L1539.83,593.78 L1542.73,594.73 L1545.63,595.69 L1548.52,596.66 L1551.42,597.64 L1554.3,598.62 L1557.19,599.62 L1560.07,600.62 L1562.96,601.62 L1565.83,602.64 L1568.71,603.67 L1571.58,604.7 L1574.45,605.74 L1577.32,606.79 L1580.19,607.85 L1583.05,608.91 L1585.91,609.98 L1588.76,611.07 L1591.62,612.16 L1594.47,613.26 L1597.31,614.36 L1600.16,615.48 L1603,616.6"/>
<polygon points="1280,537.4 1293.87,535.01 1292.38,544.09" fill="#9a32cd" stroke="#9a32cd" stroke-width="1"/>
<path class="e d" stroke="#9a32cd" d="M1511.3,619.4 L1508.38,618.66 L1505.45,617.97 L1502.5,617.33 L1499.54,616.73 L1496.57,616.17 L1493.59,615.64 L1490.61,615.14 L1487.61,614.68 L1484.61,614.23 L1481.6,613.81 L1478.58,613.4 L1475.56,613.01 L1472.54,612.62 L1469.51,612.24 L1466.49,611.87 L1463.46,611.49 L1460.43,611.1 L1457.41,610.71 L1454.39,610.31 L1451.36,609.9 L1448.34,609.48 L1445.33,609.05 L1442.31,608.62 L1439.29,608.18 L1436.28,607.73 L1433.26,607.27 L1430.25,606.8 L1427.24,606.33 L1424.23,605.85 L1421.22,605.37 L1418.22,604.87 L1415.21,604.37 L1412.21,603.87 L1409.2,603.36 L1406.2,602.84 L1403.2,602.31 L1400.2,601.78 L1397.2,601.24 L1394.2,600.7 L1391.2,600.14 L1388.21,599.58 L1385.22,599.02 L1382.22,598.44 L1379.23,597.86 L1376.24,597.28 L1373.25,596.68 L1370.27,596.08 L1367.28,595.47 L1364.3,594.85 L1361.32,594.22 L1358.34,593.59 L1355.36,592.95 L1352.38,592.3 L1349.41,591.64 L1346.44,590.97 L1343.46,590.3 L1340.49,589.62 L1337.53,588.93 L1334.56,588.23 L1331.6,587.52 L1328.64,586.8 L1325.68,586.08 L1322.72,585.35 L1319.76,584.6 L1316.81,583.85 L1313.86,583.09 L1310.91,582.32 L1307.97,581.54 L1305.02,580.75 L1302.08,579.95 L1299.14,579.14 L1296.21,578.32 L1293.27,577.5 L1290.34,576.66 L1287.42,575.81 L1284.49,574.95 L1281.57,574.08 L1278.66,573.2 L1275.74,572.31 L1272.83,571.41 L1269.93,570.5 L1267.02,569.57 L1264.12,568.64 L1261.23,567.69 L1258.34,566.74 L1255.45,565.77 L1252.56,564.79 L1249.69,563.8 L1246.81,562.79 L1243.94,561.78 L1241.07,560.75 L1238.21,559.71 L1235.35,558.66 L1232.5,557.6 L1229.65,556.52 L1226.81,555.43 L1223.97,554.33 L1221.14,553.21 L1218.31,552.09 L1215.49,550.95 L1212.67,549.79 L1209.86,548.62 L1207.05,547.44 L1204.25,546.25 L1201.45,545.04 L1198.66,543.82 L1195.88,542.58 L1193.1,541.33 L1190.33,540.07 L1187.56,538.79 L1184.8,537.5"/>
<polygon points="1524.8,620.5 1511.17,624 1511.92,614.84" fill="#9a32cd" stroke="#9a32cd" stroke-width="1"/>
<rect x="33.5" y="57.5" width="220" height="26" fill="#fff" stroke="#000" stroke-width="1"/>
<text transform="translate(141.70,74.50) scale(0.84,1)" text-anchor="middle" textLength="235.12" lengthAdjust="spacing">CosNotifyComm::NotifySubscribe</text>

<rect x="731.5" y="24.5" width="266" height="25" fill="#fff" stroke="#000" stroke-width="1"/>
<text transform="translate(862.70,41.00) scale(0.84,1)" text-anchor="middle" textLength="289.88" lengthAdjust="spacing">CosNotifyComm::SequencePushSupplier</text>

<rect x="1469.5" y="84.5" width="347" height="25" fill="#bfbfbf" stroke="#000" stroke-width="1"/>
<text transform="translate(1641.20,101.00) scale(0.84,1)" text-anchor="middle" textLength="386.31" lengthAdjust="spacing">CosNotifyChannelAdmin::SequenceProxyPushSupplier</text>

<rect x="44.5" y="143.5" width="197" height="25" fill="#fff" stroke="#000" stroke-width="1"/>
<text transform="translate(141.20,160.00) scale(0.84,1)" text-anchor="middle" textLength="207.74" lengthAdjust="spacing">CosNotifyFilter::MappingFilter</text>

<rect x="1024.5" y="135.5" width="257" height="25" fill="#fff" stroke="#000" stroke-width="1"/>
<text transform="translate(1151.20,152.00) scale(0.84,1)" text-anchor="middle" textLength="279.17" lengthAdjust="spacing">CosNotifyChannelAdmin::ProxySupplier</text>

<rect x="51.5" y="247.5" width="184" height="25" fill="#fff" stroke="#000" stroke-width="1"/>
<text transform="translate(141.70,264.00) scale(0.84,1)" text-anchor="middle" textLength="192.26" lengthAdjust="spacing">CosNotifyFilter::FilterAdmin</text>

<rect x="7.5" y="347.5" width="273" height="25" fill="#fff" stroke="#000" stroke-width="1"/>
<text transform="translate(142.20,364.00) scale(0.84,1)" text-anchor="middle" textLength="298.21" lengthAdjust="spacing">CosEventChannelAdmin::ConsumerAdmin</text>

<rect x="420.5" y="336.5" width="273" height="25" fill="#fff" stroke="#000" stroke-width="1"/>
<text transform="translate(555.20,353.00) scale(0.84,1)" text-anchor="middle" textLength="298.21" lengthAdjust="spacing">CosNotifyChannelAdmin::ConsumerAdmin</text>

<rect x="405.5" y="412.5" width="302" height="25" fill="#fff" stroke="#000" stroke-width="1"/>
<text transform="translate(554.70,429.00) scale(0.84,1)" text-anchor="middle" textLength="332.74" lengthAdjust="spacing">CosNotifyChannelAdmin::EventChannelFactory</text>

<rect x="428.5" y="460.5" width="257" height="25" fill="#fff" stroke="#000" stroke-width="1"/>
<text transform="translate(555.20,477.00) scale(0.84,1)" text-anchor="middle" textLength="279.17" lengthAdjust="spacing">CosEventChannelAdmin::EventChannel</text>

<rect x="51.5" y="500.5" width="184" height="25" fill="#fff" stroke="#000" stroke-width="1"/>
<text transform="translate(141.70,517.00) scale(0.84,1)" text-anchor="middle" textLength="192.26" lengthAdjust="spacing">CosNotification::QoSAdmin</text>

<rect x="461.5" y="508.5" width="191" height="25" fill="#fff" stroke="#000" stroke-width="1"/>
<text transform="translate(555.20,525.00) scale(0.84,1)" text-anchor="middle" textLength="200.60" lengthAdjust="spacing">CosNotifyFilter::FilterFactory</text>

<rect x="1024.5" y="512.5" width="257" height="25" fill="#fff" stroke="#000" stroke-width="1"/>
<text transform="translate(1151.20,529.00) scale(0.84,1)" text-anchor="middle" textLength="279.17" lengthAdjust="spacing">CosNotifyChannelAdmin::EventChannel</text>

<rect x="428.5" y="556.5" width="256" height="25" fill="#fff" stroke="#000" stroke-width="1"/>
<text transform="translate(554.70,573.00) scale(0.84,1)" text-anchor="middle" textLength="277.98" lengthAdjust="spacing">CosNotification::AdminPropertiesAdmin</text>

<rect x="1513.5" y="620.5" width="260" height="25" fill="#fff" stroke="#000" stroke-width="1"/>
<text transform="translate(1641.70,637.00) scale(0.84,1)" text-anchor="middle" textLength="282.74" lengthAdjust="spacing">CosNotifyChannelAdmin::SupplierAdmin</text>

<rect x="1049.5" y="705.5" width="206" height="26" fill="#fff" stroke="#000" stroke-width="1"/>
<text transform="translate(1150.70,722.50) scale(0.84,1)" text-anchor="middle" textLength="218.45" lengthAdjust="spacing">CosNotifyComm::NotifyPublish</text>

<rect x="1023.5" y="753.5" width="260" height="26" fill="#fff" stroke="#000" stroke-width="1"/>
<text transform="translate(1151.70,770.50) scale(0.84,1)" text-anchor="middle" textLength="282.74" lengthAdjust="spacing">CosEventChannelAdmin::SupplierAdmin</text>

<text transform="translate(555.30,99.00) scale(0.84,1)" text-anchor="middle" textLength="86.31" lengthAdjust="spacing">priority_filter</text>
<text transform="translate(555.20,113.00) scale(0.84,1)" text-anchor="middle" textLength="88.45" lengthAdjust="spacing">lifetime_filter</text>
<text transform="translate(342.30,219.00) scale(0.84,1)" text-anchor="middle" textLength="86.07" lengthAdjust="spacing">priority_filter</text>
<text transform="translate(342.30,233.00) scale(0.84,1)" text-anchor="middle" textLength="88.33" lengthAdjust="spacing">lifetime_filter</text>
<text transform="translate(863.50,305.00) scale(0.84,1)" text-anchor="middle" textLength="65.00" lengthAdjust="spacing">MyAdmin</text>
<text transform="translate(863.40,356.00) scale(0.84,1)" text-anchor="middle" textLength="178.10" lengthAdjust="spacing">default_consumer_admin</text>
<text transform="translate(863.40,396.00) scale(0.84,1)" text-anchor="middle" textLength="79.05" lengthAdjust="spacing">MyChannel</text>
<text transform="translate(863.90,437.00) scale(0.84,1)" text-anchor="middle" textLength="73.57" lengthAdjust="spacing">MyFactory</text>
<text transform="translate(863.20,519.00) scale(0.84,1)" text-anchor="middle" textLength="144.17" lengthAdjust="spacing">default_filter_factory</text>
<text transform="translate(1375.40,536.00) scale(0.84,1)" text-anchor="middle" textLength="79.17" lengthAdjust="spacing">MyChannel</text>
<text transform="translate(1375.00,577.00) scale(0.84,1)" text-anchor="middle" textLength="162.62" lengthAdjust="spacing">default_supplier_admin</text>
</svg></body></html>
